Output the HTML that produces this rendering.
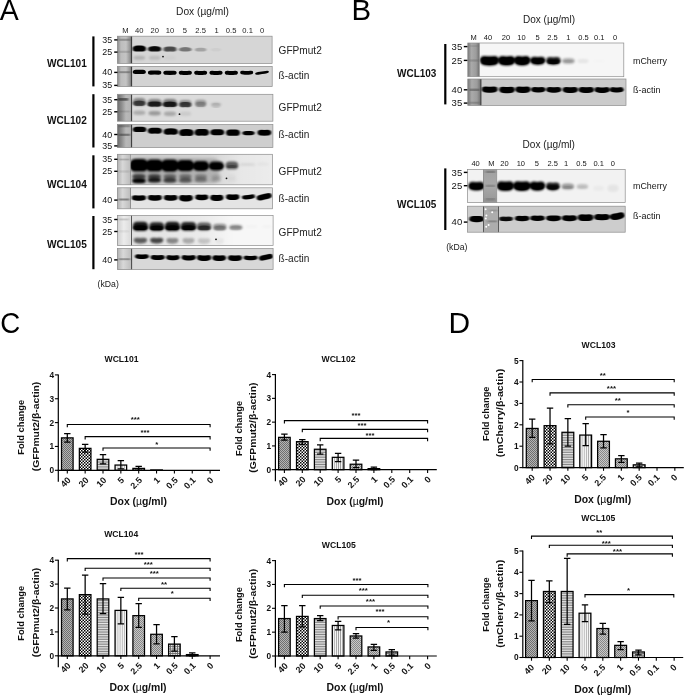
<!DOCTYPE html>
<html><head><meta charset="utf-8"><title>Figure</title>
<style>html,body{margin:0;padding:0;background:#fff;}svg{display:block;opacity:0.999;}</style></head>
<body>
<svg width="685" height="695" viewBox="0 0 685 695" font-family='"Liberation Sans", sans-serif'>
<defs>
<filter id="b1" x="-30%" y="-80%" width="160%" height="260%"><feGaussianBlur stdDeviation="0.9 0.7"/></filter>
<filter id="b3s" x="-30%" y="-80%" width="160%" height="260%"><feGaussianBlur stdDeviation="0.75 0.55"/></filter>
<filter id="b2" x="-30%" y="-80%" width="160%" height="260%"><feGaussianBlur stdDeviation="1.3 1.0"/></filter>
<filter id="b3" x="-30%" y="-30%" width="160%" height="160%"><feGaussianBlur stdDeviation="1.6"/></filter>
<linearGradient id="mk" x1="0" x2="1" y1="0" y2="0">
<stop offset="0" stop-color="#8a8a8a"/><stop offset="0.25" stop-color="#bdbdbd"/><stop offset="0.6" stop-color="#c4c4c4"/><stop offset="0.85" stop-color="#9a9a9a"/><stop offset="1" stop-color="#6a6a6a"/>
</linearGradient>
<linearGradient id="mk2" x1="0" x2="1" y1="0" y2="0">
<stop offset="0" stop-color="#b0b0b0"/><stop offset="0.4" stop-color="#d8d8d8"/><stop offset="1" stop-color="#bcbcbc"/>
</linearGradient>
<linearGradient id="mk3" x1="0" x2="1" y1="0" y2="0">
<stop offset="0" stop-color="#777"/><stop offset="0.3" stop-color="#aaa"/><stop offset="0.7" stop-color="#9c9c9c"/><stop offset="1" stop-color="#6c6c6c"/>
</linearGradient>
<linearGradient id="mk5" x1="0" x2="1" y1="0" y2="0">
<stop offset="0" stop-color="#6c6c6c"/><stop offset="0.3" stop-color="#8e8e8e"/><stop offset="0.6" stop-color="#b8b8b8"/><stop offset="0.9" stop-color="#b4b4b4"/><stop offset="1" stop-color="#808080"/>
</linearGradient>
<linearGradient id="mk6" x1="0" x2="0" y1="0" y2="1">
<stop offset="0" stop-color="#a0a0a0"/><stop offset="0.5" stop-color="#a8a8a8"/><stop offset="1" stop-color="#969696"/>
</linearGradient>
<linearGradient id="mk4" x1="0" x2="1" y1="0" y2="0">
<stop offset="0" stop-color="#cfcfcf"/><stop offset="0.5" stop-color="#ececec"/><stop offset="1" stop-color="#dcdcdc"/>
</linearGradient>
<linearGradient id="sm5" x1="0" x2="1" y1="0" y2="0">
<stop offset="0" stop-color="#000" stop-opacity="0.14"/><stop offset="0.6" stop-color="#000" stop-opacity="0.10"/><stop offset="0.8" stop-color="#000" stop-opacity="0.02"/><stop offset="1" stop-color="#000" stop-opacity="0"/>
</linearGradient>
<linearGradient id="sm7" x1="0" x2="1" y1="0" y2="0">
<stop offset="0" stop-color="#000" stop-opacity="0.10"/><stop offset="0.55" stop-color="#000" stop-opacity="0.05"/><stop offset="0.75" stop-color="#000" stop-opacity="0"/><stop offset="1" stop-color="#000" stop-opacity="0"/>
</linearGradient>
<pattern id="p0" width="2" height="2" patternUnits="userSpaceOnUse"><rect width="2" height="2" fill="#b4b4b4"/><rect width="1" height="1" fill="#6e6e6e"/><rect x="1" y="1" width="1" height="1" fill="#6e6e6e"/></pattern>
<pattern id="p1" width="3" height="3" patternUnits="userSpaceOnUse"><rect width="3" height="3" fill="#fff"/><rect width="1.5" height="1.5" fill="#000"/><rect x="1.5" y="1.5" width="1.5" height="1.5" fill="#000"/></pattern>
<pattern id="p2" width="2" height="1.7" patternUnits="userSpaceOnUse"><rect width="2" height="1.7" fill="#e8e8e8"/><rect width="2" height="0.75" fill="#777"/></pattern>
<pattern id="p3" width="2.1" height="2" patternUnits="userSpaceOnUse"><rect width="2.1" height="2" fill="#f4f4f4"/><rect width="0.7" height="2" fill="#999"/></pattern>
<pattern id="p4" width="2" height="2" patternUnits="userSpaceOnUse"><rect width="2" height="2" fill="#c8c8c8"/><rect width="1" height="1" fill="#888"/><rect x="1" y="1" width="1" height="1" fill="#888"/></pattern>
<pattern id="p5" width="2" height="2" patternUnits="userSpaceOnUse"><rect width="2" height="2" fill="#c4c4c4"/><rect width="1" height="1" fill="#808080"/><rect x="1" y="1" width="1" height="1" fill="#808080"/></pattern>
<pattern id="p6" width="2.3" height="2.3" patternUnits="userSpaceOnUse"><rect width="2.3" height="2.3" fill="#e4e4e4"/><rect width="2.3" height="0.75" fill="#6a6a6a"/><rect width="0.75" height="2.3" fill="#6a6a6a"/></pattern>
<pattern id="p7" width="2" height="2" patternUnits="userSpaceOnUse"><rect width="2" height="2" fill="#999"/></pattern>
</defs>
<rect width="685" height="695" fill="#fff"/>
<text x="-0.20" y="20.10" font-size="28.6" font-weight="normal" text-anchor="start" fill="#000" textLength="19.00" lengthAdjust="spacingAndGlyphs" >A</text>
<text x="351.40" y="20.10" font-size="28.6" font-weight="normal" text-anchor="start" fill="#000" textLength="19.60" lengthAdjust="spacingAndGlyphs" >B</text>
<text x="0.20" y="333.30" font-size="28.6" font-weight="normal" text-anchor="start" fill="#000" textLength="20.00" lengthAdjust="spacingAndGlyphs" >C</text>
<text x="448.40" y="333.20" font-size="28.6" font-weight="normal" text-anchor="start" fill="#000" textLength="21.60" lengthAdjust="spacingAndGlyphs" >D</text>
<rect x="117.4" y="36.2" width="154.70" height="27.20" fill="#d6d6d6"/>
<rect x="117.4" y="36.2" width="14.30" height="27.20" fill="url(#mk)"/>
<rect x="131.2" y="36.2" width="0.9" height="27.20" fill="#2a2a2a"/>
<rect x="118.9" y="38.80" width="11.30" height="2" fill="#333" fill-opacity="0.35" filter="url(#b1)"/>
<rect x="118.9" y="50.80" width="11.30" height="2" fill="#333" fill-opacity="0.2" filter="url(#b1)"/>
<clipPath id="c1"><rect x="131.7" y="36.2" width="140.40" height="27.20"/></clipPath>
<g filter="url(#b1)" clip-path="url(#c1)">
<path d="M132.70 48.90Q132.70 45.70 137.30 45.55Q139.30 45.25 141.30 45.55Q145.90 45.70 145.90 48.90Q145.90 51.70 141.30 51.55Q139.30 51.25 137.30 51.55Q132.70 51.70 132.70 48.90Z" fill="#000" fill-opacity="1"/>
<path d="M148.14 49.30Q148.14 46.36 152.74 46.18Q154.64 45.82 156.54 46.18Q161.14 46.36 161.14 49.30Q161.14 51.76 156.54 51.58Q154.64 51.22 152.74 51.58Q148.14 51.76 148.14 49.30Z" fill="#000" fill-opacity="0.92"/>
<path d="M163.48 49.40Q163.48 46.74 168.08 46.62Q169.98 46.38 171.88 46.62Q176.48 46.74 176.48 49.40Q176.48 51.74 171.88 51.62Q169.98 51.38 168.08 51.62Q163.48 51.74 163.48 49.40Z" fill="#000" fill-opacity="0.62"/>
<path d="M179.02 49.60Q179.02 47.28 183.56 47.19Q185.32 47.01 187.08 47.19Q191.62 47.28 191.62 49.60Q191.62 51.68 187.08 51.59Q185.32 51.41 183.56 51.59Q179.02 51.68 179.02 49.60Z" fill="#000" fill-opacity="0.45"/>
<path d="M194.96 49.80Q194.96 47.82 199.06 47.76Q200.66 47.64 202.26 47.76Q206.36 47.82 206.36 49.80Q206.36 51.62 202.26 51.56Q200.66 51.44 199.06 51.56Q194.96 51.62 194.96 49.80Z" fill="#000" fill-opacity="0.24"/>
<path d="M211.00 49.70Q211.00 48.00 214.60 48.00Q216.00 48.00 217.40 48.00Q221.00 48.00 221.00 49.70Q221.00 51.40 217.40 51.40Q216.00 51.40 214.60 51.40Q211.00 51.40 211.00 49.70Z" fill="#000" fill-opacity="0.04"/>
</g>
<g filter="url(#b1)" clip-path="url(#c1)">
<path d="M134.20 48.20Q134.20 46.70 137.87 46.70Q139.30 46.70 140.73 46.70Q144.40 46.70 144.40 48.20Q144.40 49.70 140.73 49.70Q139.30 49.70 137.87 49.70Q134.20 49.70 134.20 48.20Z" fill="#000" fill-opacity="1"/>
<path d="M149.54 48.50Q149.54 47.00 153.21 47.00Q154.64 47.00 156.07 47.00Q159.74 47.00 159.74 48.50Q159.74 50.00 156.07 50.00Q154.64 50.00 153.21 50.00Q149.54 50.00 149.54 48.50Z" fill="#000" fill-opacity="0.6"/>
<path d="M164.88 48.80Q164.88 47.30 168.55 47.30Q169.98 47.30 171.41 47.30Q175.08 47.30 175.08 48.80Q175.08 50.30 171.41 50.30Q169.98 50.30 168.55 50.30Q164.88 50.30 164.88 48.80Z" fill="#000" fill-opacity="0.12"/>
</g>
<g filter="url(#b2)" clip-path="url(#c1)">
<path d="M133.45 57.80Q133.45 55.80 137.66 55.80Q139.30 55.80 140.94 55.80Q145.15 55.80 145.15 57.80Q145.15 59.80 140.94 59.80Q139.30 59.80 137.66 59.80Q133.45 59.80 133.45 57.80Z" fill="#000" fill-opacity="0.17"/>
<path d="M148.79 57.80Q148.79 55.80 153.00 55.80Q154.64 55.80 156.28 55.80Q160.49 55.80 160.49 57.80Q160.49 59.80 156.28 59.80Q154.64 59.80 153.00 59.80Q148.79 59.80 148.79 57.80Z" fill="#000" fill-opacity="0.12"/>
<path d="M164.13 57.80Q164.13 55.80 168.34 55.80Q169.98 55.80 171.62 55.80Q175.83 55.80 175.83 57.80Q175.83 59.80 171.62 59.80Q169.98 59.80 168.34 59.80Q164.13 59.80 164.13 57.80Z" fill="#000" fill-opacity="0.03"/>
</g>
<rect x="117.4" y="36.2" width="154.70" height="27.20" fill="none" stroke="#8c8c8c" stroke-width="0.7"/>
<rect x="117.4" y="66.4" width="154.80" height="20.20" fill="#d3d3d3"/>
<rect x="117.4" y="66.4" width="14.30" height="20.20" fill="url(#mk)"/>
<rect x="131.2" y="66.4" width="0.9" height="20.20" fill="#2a2a2a"/>
<rect x="118.9" y="71.20" width="11.30" height="2" fill="#333" fill-opacity="0.4" filter="url(#b1)"/>
<clipPath id="c2"><rect x="131.7" y="66.4" width="140.50" height="20.20"/></clipPath>
<g filter="url(#b3s)" clip-path="url(#c2)">
<path d="M132.70 72.20Q132.70 69.94 135.60 69.82Q139.30 69.58 143.00 69.82Q145.90 69.94 145.90 72.20Q145.90 74.14 143.00 74.02Q139.30 73.78 135.60 74.02Q132.70 74.14 132.70 72.20Z" fill="#000" fill-opacity="1"/>
<path d="M147.94 72.70Q147.94 70.52 150.89 70.46Q154.64 70.34 158.39 70.46Q161.34 70.52 161.34 72.70Q161.34 74.72 158.39 74.66Q154.64 74.54 150.89 74.66Q147.94 74.72 147.94 72.70Z" fill="#000" fill-opacity="1"/>
<path d="M163.28 72.40Q163.28 70.50 166.23 70.65Q169.98 70.95 173.73 70.65Q176.68 70.50 176.68 72.40Q176.68 74.70 173.73 74.85Q169.98 75.15 166.23 74.85Q163.28 74.70 163.28 72.40Z" fill="#000" fill-opacity="1"/>
<path d="M178.72 72.40Q178.72 70.64 181.62 70.82Q185.32 71.18 189.02 70.82Q191.92 70.64 191.92 72.40Q191.92 74.64 189.02 74.82Q185.32 75.18 181.62 74.82Q178.72 74.64 178.72 72.40Z" fill="#000" fill-opacity="1"/>
<path d="M194.16 72.40Q194.16 70.64 197.02 70.82Q200.66 71.18 204.30 70.82Q207.16 70.64 207.16 72.40Q207.16 74.64 204.30 74.82Q200.66 75.18 197.02 74.82Q194.16 74.64 194.16 72.40Z" fill="#000" fill-opacity="1"/>
<path d="M209.40 72.40Q209.40 70.64 212.30 70.82Q216.00 71.18 219.70 70.82Q222.60 70.64 222.60 72.40Q222.60 74.64 219.70 74.82Q216.00 75.18 212.30 74.82Q209.40 74.64 209.40 72.40Z" fill="#000" fill-opacity="1"/>
<path d="M224.74 72.40Q224.74 70.64 227.64 70.82Q231.34 71.18 235.04 70.82Q237.94 70.64 237.94 72.40Q237.94 74.64 235.04 74.82Q231.34 75.18 227.64 74.82Q224.74 74.64 224.74 72.40Z" fill="#000" fill-opacity="1"/>
<path d="M240.18 72.30Q240.18 70.64 243.04 70.82Q246.68 71.18 250.32 70.82Q253.18 70.64 253.18 72.30Q253.18 74.44 250.32 74.62Q246.68 74.98 243.04 74.62Q240.18 74.44 240.18 72.30Z" fill="#000" fill-opacity="1"/>
<path d="M255.02 72.80Q255.02 71.50 258.10 71.50Q262.02 71.50 265.94 71.50Q269.02 71.50 269.02 72.80Q269.02 74.10 265.94 74.10Q262.02 74.10 258.10 74.10Q255.02 74.10 255.02 72.80Z" fill="#000" fill-opacity="1" transform="rotate(-8 262.02 72.80)"/>
</g>
<g filter="url(#b3s)" clip-path="url(#c2)">
<path d="M133.90 72.30Q133.90 71.04 136.28 70.92Q139.30 70.68 142.32 70.92Q144.70 71.04 144.70 72.30Q144.70 73.24 142.32 73.12Q139.30 72.88 136.28 73.12Q133.90 73.24 133.90 72.30Z" fill="#000" fill-opacity="1"/>
<path d="M149.24 72.80Q149.24 71.62 151.62 71.56Q154.64 71.44 157.66 71.56Q160.04 71.62 160.04 72.80Q160.04 73.82 157.66 73.76Q154.64 73.64 151.62 73.76Q149.24 73.82 149.24 72.80Z" fill="#000" fill-opacity="1"/>
<path d="M164.58 72.60Q164.58 71.66 166.96 71.78Q169.98 72.02 173.00 71.78Q175.38 71.66 175.38 72.60Q175.38 73.86 173.00 73.98Q169.98 74.22 166.96 73.98Q164.58 73.86 164.58 72.60Z" fill="#000" fill-opacity="1"/>
<path d="M179.92 72.70Q179.92 71.76 182.30 71.88Q185.32 72.12 188.34 71.88Q190.72 71.76 190.72 72.70Q190.72 73.96 188.34 74.08Q185.32 74.32 182.30 74.08Q179.92 73.96 179.92 72.70Z" fill="#000" fill-opacity="1"/>
<path d="M195.26 72.70Q195.26 71.76 197.64 71.88Q200.66 72.12 203.68 71.88Q206.06 71.76 206.06 72.70Q206.06 73.96 203.68 74.08Q200.66 74.32 197.64 74.08Q195.26 73.96 195.26 72.70Z" fill="#000" fill-opacity="1"/>
<path d="M210.60 72.70Q210.60 71.76 212.98 71.88Q216.00 72.12 219.02 71.88Q221.40 71.76 221.40 72.70Q221.40 73.96 219.02 74.08Q216.00 74.32 212.98 74.08Q210.60 73.96 210.60 72.70Z" fill="#000" fill-opacity="1"/>
<path d="M225.94 72.70Q225.94 71.76 228.32 71.88Q231.34 72.12 234.36 71.88Q236.74 71.76 236.74 72.70Q236.74 73.96 234.36 74.08Q231.34 74.32 228.32 74.08Q225.94 73.96 225.94 72.70Z" fill="#000" fill-opacity="1"/>
<path d="M241.28 72.60Q241.28 71.66 243.66 71.78Q246.68 72.02 249.70 71.78Q252.08 71.66 252.08 72.60Q252.08 73.86 249.70 73.98Q246.68 74.22 243.66 73.98Q241.28 73.86 241.28 72.60Z" fill="#000" fill-opacity="1"/>
<path d="M256.62 72.90Q256.62 72.20 259.00 72.20Q262.02 72.20 265.04 72.20Q267.42 72.20 267.42 72.90Q267.42 73.60 265.04 73.60Q262.02 73.60 259.00 73.60Q256.62 73.60 256.62 72.90Z" fill="#000" fill-opacity="0.6" transform="rotate(-8 262.02 72.90)"/>
</g>
<rect x="117.4" y="66.4" width="154.80" height="20.20" fill="none" stroke="#8c8c8c" stroke-width="0.7"/>
<rect x="117.4" y="94.3" width="155.50" height="26.90" fill="#dcdcdc"/>
<rect x="117.4" y="94.3" width="14.30" height="26.90" fill="url(#mk5)"/>
<rect x="131.2" y="94.3" width="0.9" height="26.90" fill="#2a2a2a"/>
<rect x="117.9" y="98.10" width="10.30" height="2.6" fill="#333" fill-opacity="0.7" filter="url(#b1)"/>
<rect x="118.9" y="110.50" width="11.30" height="2" fill="#333" fill-opacity="0.15" filter="url(#b1)"/>
<clipPath id="c3"><rect x="131.7" y="94.3" width="140.90" height="26.90"/></clipPath>
<g filter="url(#b2)" clip-path="url(#c3)">
<path d="M132.80 102.00Q132.80 98.10 137.40 98.10Q139.30 98.10 141.20 98.10Q145.80 98.10 145.80 102.00Q145.80 105.90 141.20 105.90Q139.30 105.90 137.40 105.90Q132.80 105.90 132.80 102.00Z" fill="#000" fill-opacity="0.4"/>
<path d="M147.64 102.80Q147.64 99.10 152.24 99.10Q154.64 99.10 157.04 99.10Q161.64 99.10 161.64 102.80Q161.64 106.50 157.04 106.50Q154.64 106.50 152.24 106.50Q147.64 106.50 147.64 102.80Z" fill="#000" fill-opacity="0.42"/>
<path d="M162.98 103.00Q162.98 99.10 167.58 99.10Q169.98 99.10 172.38 99.10Q176.98 99.10 176.98 103.00Q176.98 106.90 172.38 106.90Q169.98 106.90 167.58 106.90Q162.98 106.90 162.98 103.00Z" fill="#000" fill-opacity="0.45"/>
<path d="M179.12 103.30Q179.12 100.00 183.58 100.00Q185.32 100.00 187.06 100.00Q191.52 100.00 191.52 103.30Q191.52 106.60 187.06 106.60Q185.32 106.60 183.58 106.60Q179.12 106.60 179.12 103.30Z" fill="#000" fill-opacity="0.36"/>
<path d="M194.86 103.20Q194.86 99.80 199.04 99.80Q200.66 99.80 202.28 99.80Q206.46 99.80 206.46 103.20Q206.46 106.60 202.28 106.60Q200.66 106.60 199.04 106.60Q194.86 106.60 194.86 103.20Z" fill="#000" fill-opacity="0.3"/>
<path d="M210.50 104.10Q210.50 102.50 214.46 102.50Q216.00 102.50 217.54 102.50Q221.50 102.50 221.50 104.10Q221.50 105.70 217.54 105.70Q216.00 105.70 214.46 105.70Q210.50 105.70 210.50 104.10Z" fill="#000" fill-opacity="0.13"/>
</g>
<g filter="url(#b1)" clip-path="url(#c3)">
<path d="M133.20 103.50Q133.20 100.78 137.59 100.69Q139.30 100.51 141.01 100.69Q145.40 100.78 145.40 103.50Q145.40 105.98 141.01 105.89Q139.30 105.71 137.59 105.89Q133.20 105.98 133.20 103.50Z" fill="#000" fill-opacity="0.6"/>
<path d="M147.64 104.50Q147.64 101.70 152.24 101.55Q154.64 101.25 157.04 101.55Q161.64 101.70 161.64 104.50Q161.64 106.90 157.04 106.75Q154.64 106.45 152.24 106.75Q147.64 106.90 147.64 104.50Z" fill="#000" fill-opacity="0.8"/>
<path d="M162.98 104.70Q162.98 101.90 167.58 101.75Q169.98 101.45 172.38 101.75Q176.98 101.90 176.98 104.70Q176.98 107.10 172.38 106.95Q169.98 106.65 167.58 106.95Q162.98 107.10 162.98 104.70Z" fill="#000" fill-opacity="0.82"/>
<path d="M179.32 104.90Q179.32 102.14 183.64 102.02Q185.32 101.78 187.00 102.02Q191.32 102.14 191.32 104.90Q191.32 107.34 187.00 107.22Q185.32 106.98 183.64 107.22Q179.32 107.34 179.32 104.90Z" fill="#000" fill-opacity="0.64"/>
<path d="M195.66 104.40Q195.66 101.80 199.26 101.80Q200.66 101.80 202.06 101.80Q205.66 101.80 205.66 104.40Q205.66 107.00 202.06 107.00Q200.66 107.00 199.26 107.00Q195.66 107.00 195.66 104.40Z" fill="#000" fill-opacity="0.2"/>
<path d="M211.50 105.30Q211.50 102.70 214.74 102.70Q216.00 102.70 217.26 102.70Q220.50 102.70 220.50 105.30Q220.50 107.90 217.26 107.90Q216.00 107.90 214.74 107.90Q211.50 107.90 211.50 105.30Z" fill="#000" fill-opacity="0.1"/>
</g>
<g filter="url(#b2)" clip-path="url(#c3)">
<path d="M133.20 112.80Q133.20 110.60 137.59 110.60Q139.30 110.60 141.01 110.60Q145.40 110.60 145.40 112.80Q145.40 115.00 141.01 115.00Q139.30 115.00 137.59 115.00Q133.20 115.00 133.20 112.80Z" fill="#000" fill-opacity="0.22"/>
<path d="M148.54 113.20Q148.54 111.00 152.93 111.00Q154.64 111.00 156.35 111.00Q160.74 111.00 160.74 113.20Q160.74 115.40 156.35 115.40Q154.64 115.40 152.93 115.40Q148.54 115.40 148.54 113.20Z" fill="#000" fill-opacity="0.3"/>
<path d="M163.88 113.70Q163.88 111.50 168.27 111.50Q169.98 111.50 171.69 111.50Q176.08 111.50 176.08 113.70Q176.08 115.90 171.69 115.90Q169.98 115.90 168.27 115.90Q163.88 115.90 163.88 113.70Z" fill="#000" fill-opacity="0.24"/>
<path d="M179.22 113.70Q179.22 111.50 183.61 111.50Q185.32 111.50 187.03 111.50Q191.42 111.50 191.42 113.70Q191.42 115.90 187.03 115.90Q185.32 115.90 183.61 115.90Q179.22 115.90 179.22 113.70Z" fill="#000" fill-opacity="0.08"/>
</g>
<rect x="117.4" y="94.3" width="155.50" height="26.90" fill="none" stroke="#8c8c8c" stroke-width="0.7"/>
<rect x="117.4" y="124.5" width="155.50" height="23.10" fill="#cecece"/>
<rect x="117.4" y="124.5" width="14.30" height="23.10" fill="url(#mk5)"/>
<rect x="131.2" y="124.5" width="0.9" height="23.10" fill="#2a2a2a"/>
<rect x="118.9" y="133.70" width="11.30" height="2.2" fill="#333" fill-opacity="0.5" filter="url(#b1)"/>
<rect x="118.9" y="124.80" width="11.30" height="2.4" fill="#333" fill-opacity="0.35" filter="url(#b1)"/>
<clipPath id="c4"><rect x="131.7" y="124.5" width="140.90" height="23.10"/></clipPath>
<g filter="url(#b1)" clip-path="url(#c4)">
<path d="M133.10 129.70Q133.10 126.94 136.61 126.82Q139.60 126.58 142.59 126.82Q146.10 126.94 146.10 129.70Q146.10 132.14 142.59 132.02Q139.60 131.78 136.61 132.02Q133.10 132.14 133.10 129.70Z" fill="#000" fill-opacity="1"/>
<path d="M148.00 131.10Q148.00 128.00 151.73 127.85Q154.90 127.55 158.07 127.85Q161.80 128.00 161.80 131.10Q161.80 133.80 158.07 133.65Q154.90 133.35 151.73 133.65Q148.00 133.80 148.00 131.10Z" fill="#000" fill-opacity="1"/>
<path d="M163.80 131.90Q163.80 128.60 167.58 128.45Q170.80 128.15 174.02 128.45Q177.80 128.60 177.80 131.90Q177.80 134.80 174.02 134.65Q170.80 134.35 167.58 134.65Q163.80 134.80 163.80 131.90Z" fill="#000" fill-opacity="1"/>
<path d="M179.30 132.90Q179.30 129.30 183.13 129.15Q186.40 128.85 189.67 129.15Q193.50 129.30 193.50 132.90Q193.50 136.10 189.67 135.95Q186.40 135.65 183.13 135.95Q179.30 136.10 179.30 132.90Z" fill="#000" fill-opacity="1"/>
<path d="M194.80 132.70Q194.80 129.24 198.58 129.12Q201.80 128.88 205.02 129.12Q208.80 129.24 208.80 132.70Q208.80 135.84 205.02 135.72Q201.80 135.48 198.58 135.72Q194.80 135.84 194.80 132.70Z" fill="#000" fill-opacity="1"/>
<path d="M210.60 132.50Q210.60 129.38 214.22 129.29Q217.30 129.11 220.38 129.29Q224.00 129.38 224.00 132.50Q224.00 135.38 220.38 135.29Q217.30 135.11 214.22 135.29Q210.60 135.38 210.60 132.50Z" fill="#000" fill-opacity="1"/>
<path d="M226.30 132.90Q226.30 129.68 229.92 129.59Q233.00 129.41 236.08 129.59Q239.70 129.68 239.70 132.90Q239.70 135.88 236.08 135.79Q233.00 135.61 229.92 135.79Q226.30 135.88 226.30 132.90Z" fill="#000" fill-opacity="1"/>
<path d="M242.70 133.10Q242.70 130.90 245.83 130.90Q248.50 130.90 251.17 130.90Q254.30 130.90 254.30 133.10Q254.30 135.30 251.17 135.30Q248.50 135.30 245.83 135.30Q242.70 135.30 242.70 133.10Z" fill="#000" fill-opacity="1"/>
<path d="M257.70 132.50Q257.70 129.72 261.32 129.81Q264.40 129.99 267.48 129.81Q271.10 129.72 271.10 132.50Q271.10 135.52 267.48 135.61Q264.40 135.79 261.32 135.61Q257.70 135.52 257.70 132.50Z" fill="#000" fill-opacity="1"/>
</g>
<g filter="url(#b1)" clip-path="url(#c4)">
<path d="M134.00 129.30Q134.00 127.80 137.02 127.80Q139.60 127.80 142.18 127.80Q145.20 127.80 145.20 129.30Q145.20 130.80 142.18 130.80Q139.60 130.80 137.02 130.80Q134.00 130.80 134.00 129.30Z" fill="#000" fill-opacity="1"/>
<path d="M149.30 130.60Q149.30 128.80 152.32 128.80Q154.90 128.80 157.48 128.80Q160.50 128.80 160.50 130.60Q160.50 132.40 157.48 132.40Q154.90 132.40 152.32 132.40Q149.30 132.40 149.30 130.60Z" fill="#000" fill-opacity="1"/>
<path d="M165.20 131.40Q165.20 129.40 168.22 129.40Q170.80 129.40 173.38 129.40Q176.40 129.40 176.40 131.40Q176.40 133.40 173.38 133.40Q170.80 133.40 168.22 133.40Q165.20 133.40 165.20 131.40Z" fill="#000" fill-opacity="1"/>
<path d="M180.80 132.40Q180.80 130.20 183.82 130.20Q186.40 130.20 188.98 130.20Q192.00 130.20 192.00 132.40Q192.00 134.60 188.98 134.60Q186.40 134.60 183.82 134.60Q180.80 134.60 180.80 132.40Z" fill="#000" fill-opacity="1"/>
<path d="M196.20 132.30Q196.20 130.20 199.22 130.20Q201.80 130.20 204.38 130.20Q207.40 130.20 207.40 132.30Q207.40 134.40 204.38 134.40Q201.80 134.40 199.22 134.40Q196.20 134.40 196.20 132.30Z" fill="#000" fill-opacity="1"/>
<path d="M211.70 132.20Q211.70 130.40 214.72 130.40Q217.30 130.40 219.88 130.40Q222.90 130.40 222.90 132.20Q222.90 134.00 219.88 134.00Q217.30 134.00 214.72 134.00Q211.70 134.00 211.70 132.20Z" fill="#000" fill-opacity="1"/>
<path d="M227.40 132.60Q227.40 130.70 230.42 130.70Q233.00 130.70 235.58 130.70Q238.60 130.70 238.60 132.60Q238.60 134.50 235.58 134.50Q233.00 134.50 230.42 134.50Q227.40 134.50 227.40 132.60Z" fill="#000" fill-opacity="1"/>
<path d="M242.90 133.10Q242.90 132.00 245.92 132.00Q248.50 132.00 251.08 132.00Q254.10 132.00 254.10 133.10Q254.10 134.20 251.08 134.20Q248.50 134.20 245.92 134.20Q242.90 134.20 242.90 133.10Z" fill="#000" fill-opacity="0.7"/>
<path d="M258.80 132.80Q258.80 131.10 261.82 131.10Q264.40 131.10 266.98 131.10Q270.00 131.10 270.00 132.80Q270.00 134.50 266.98 134.50Q264.40 134.50 261.82 134.50Q258.80 134.50 258.80 132.80Z" fill="#000" fill-opacity="1"/>
</g>
<rect x="117.4" y="124.5" width="155.50" height="23.10" fill="none" stroke="#8c8c8c" stroke-width="0.7"/>
<rect x="117.4" y="154.3" width="155.20" height="30.50" fill="#ececec"/>
<rect x="117.4" y="154.3" width="155.20" height="30.50" fill="url(#sm5)"/>
<rect x="117.4" y="154.3" width="13.10" height="30.50" fill="url(#mk2)"/>
<rect x="130.0" y="154.3" width="0.9" height="30.50" fill="#9a9a9a"/>
<rect x="118.9" y="158.60" width="10.30" height="1.8" fill="#333" fill-opacity="0.25" filter="url(#b1)"/>
<rect x="118.9" y="170.50" width="10.30" height="2" fill="#333" fill-opacity="0.12" filter="url(#b1)"/>
<clipPath id="c5"><rect x="130.7" y="154.3" width="141.90" height="30.50"/></clipPath>
<rect x="133" y="158" width="86" height="25" rx="5" fill="#000" fill-opacity="0.16" filter="url(#b3)" clip-path="url(#c5)"/>
<g filter="url(#b2)" clip-path="url(#c5)">
<path d="M130.20 165.20Q130.20 158.90 134.80 158.90Q138.90 158.90 143.00 158.90Q147.60 158.90 147.60 165.20Q147.60 171.50 143.00 171.50Q138.90 171.50 134.80 171.50Q130.20 171.50 130.20 165.20Z" fill="#000" fill-opacity="1"/>
<path d="M146.20 165.50Q146.20 159.40 150.80 159.40Q154.40 159.40 158.00 159.40Q162.60 159.40 162.60 165.50Q162.60 171.60 158.00 171.60Q154.40 171.60 150.80 171.60Q146.20 171.60 146.20 165.50Z" fill="#000" fill-opacity="1"/>
<path d="M161.50 165.60Q161.50 159.50 166.10 159.50Q169.90 159.50 173.70 159.50Q178.30 159.50 178.30 165.60Q178.30 171.70 173.70 171.70Q169.90 171.70 166.10 171.70Q161.50 171.70 161.50 165.60Z" fill="#000" fill-opacity="1"/>
<path d="M177.10 165.60Q177.10 159.90 181.70 159.90Q185.40 159.90 189.10 159.90Q193.70 159.90 193.70 165.60Q193.70 171.30 189.10 171.30Q185.40 171.30 181.70 171.30Q177.10 171.30 177.10 165.60Z" fill="#000" fill-opacity="1"/>
<path d="M193.20 166.00Q193.20 161.10 197.80 161.10Q200.90 161.10 204.00 161.10Q208.60 161.10 208.60 166.00Q208.60 170.90 204.00 170.90Q200.90 170.90 197.80 170.90Q193.20 170.90 193.20 166.00Z" fill="#000" fill-opacity="1"/>
<path d="M209.10 166.00Q209.10 161.60 213.70 161.60Q216.40 161.60 219.10 161.60Q223.70 161.60 223.70 166.00Q223.70 170.40 219.10 170.40Q216.40 170.40 213.70 170.40Q209.10 170.40 209.10 166.00Z" fill="#000" fill-opacity="0.97"/>
<path d="M225.50 165.40Q225.50 161.50 230.10 161.50Q231.90 161.50 233.70 161.50Q238.30 161.50 238.30 165.40Q238.30 169.30 233.70 169.30Q231.90 169.30 230.10 169.30Q225.50 169.30 225.50 165.40Z" fill="#000" fill-opacity="0.6"/>
<path d="M239.40 164.60Q239.40 163.10 244.00 163.10Q247.40 163.10 250.80 163.10Q255.40 163.10 255.40 164.60Q255.40 166.10 250.80 166.10Q247.40 166.10 244.00 166.10Q239.40 166.10 239.40 164.60Z" fill="#000" fill-opacity="0.07"/>
<path d="M256.90 163.90Q256.90 162.40 261.22 162.40Q262.90 162.40 264.58 162.40Q268.90 162.40 268.90 163.90Q268.90 165.40 264.58 165.40Q262.90 165.40 261.22 165.40Q256.90 165.40 256.90 163.90Z" fill="#000" fill-opacity="0.03"/>
</g>
<g filter="url(#b1)" clip-path="url(#c5)">
<path d="M131.10 165.40Q131.10 160.80 135.70 160.80Q138.90 160.80 142.10 160.80Q146.70 160.80 146.70 165.40Q146.70 170.00 142.10 170.00Q138.90 170.00 135.70 170.00Q131.10 170.00 131.10 165.40Z" fill="#000" fill-opacity="1"/>
<path d="M147.10 165.70Q147.10 161.30 151.70 161.30Q154.40 161.30 157.10 161.30Q161.70 161.30 161.70 165.70Q161.70 170.10 157.10 170.10Q154.40 170.10 151.70 170.10Q147.10 170.10 147.10 165.70Z" fill="#000" fill-opacity="1"/>
<path d="M162.40 165.80Q162.40 161.40 167.00 161.40Q169.90 161.40 172.80 161.40Q177.40 161.40 177.40 165.80Q177.40 170.20 172.80 170.20Q169.90 170.20 167.00 170.20Q162.40 170.20 162.40 165.80Z" fill="#000" fill-opacity="1"/>
<path d="M178.00 165.80Q178.00 161.80 182.60 161.80Q185.40 161.80 188.20 161.80Q192.80 161.80 192.80 165.80Q192.80 169.80 188.20 169.80Q185.40 169.80 182.60 169.80Q178.00 169.80 178.00 165.80Z" fill="#000" fill-opacity="1"/>
<path d="M194.20 166.20Q194.20 163.00 198.80 163.00Q200.90 163.00 203.00 163.00Q207.60 163.00 207.60 166.20Q207.60 169.40 203.00 169.40Q200.90 169.40 198.80 169.40Q194.20 169.40 194.20 166.20Z" fill="#000" fill-opacity="1"/>
<path d="M210.10 166.20Q210.10 163.40 214.64 163.40Q216.40 163.40 218.16 163.40Q222.70 163.40 222.70 166.20Q222.70 169.00 218.16 169.00Q216.40 169.00 214.64 169.00Q210.10 169.00 210.10 166.20Z" fill="#000" fill-opacity="0.9"/>
<path d="M226.90 166.50Q226.90 165.00 230.50 165.00Q231.90 165.00 233.30 165.00Q236.90 165.00 236.90 166.50Q236.90 168.00 233.30 168.00Q231.90 168.00 230.50 168.00Q226.90 168.00 226.90 166.50Z" fill="#000" fill-opacity="0.3"/>
</g>
<g filter="url(#b2)" clip-path="url(#c5)">
<path d="M132.20 176.60Q132.20 174.10 136.80 174.10Q138.90 174.10 141.00 174.10Q145.60 174.10 145.60 176.60Q145.60 179.10 141.00 179.10Q138.90 179.10 136.80 179.10Q132.20 179.10 132.20 176.60Z" fill="#000" fill-opacity="0.62"/>
<path d="M148.00 176.60Q148.00 174.10 152.60 174.10Q154.40 174.10 156.20 174.10Q160.80 174.10 160.80 176.60Q160.80 179.10 156.20 179.10Q154.40 179.10 152.60 179.10Q148.00 179.10 148.00 176.60Z" fill="#000" fill-opacity="0.6"/>
<path d="M163.60 176.60Q163.60 174.10 168.14 174.10Q169.90 174.10 171.66 174.10Q176.20 174.10 176.20 176.60Q176.20 179.10 171.66 179.10Q169.90 179.10 168.14 179.10Q163.60 179.10 163.60 176.60Z" fill="#000" fill-opacity="0.42"/>
<path d="M179.30 176.60Q179.30 174.10 183.69 174.10Q185.40 174.10 187.11 174.10Q191.50 174.10 191.50 176.60Q191.50 179.10 187.11 179.10Q185.40 179.10 183.69 179.10Q179.30 179.10 179.30 176.60Z" fill="#000" fill-opacity="0.36"/>
<path d="M194.90 176.60Q194.90 174.10 199.22 174.10Q200.90 174.10 202.58 174.10Q206.90 174.10 206.90 176.60Q206.90 179.10 202.58 179.10Q200.90 179.10 199.22 179.10Q194.90 179.10 194.90 176.60Z" fill="#000" fill-opacity="0.27"/>
<path d="M211.40 176.60Q211.40 174.10 215.00 174.10Q216.40 174.10 217.80 174.10Q221.40 174.10 221.40 176.60Q221.40 179.10 217.80 179.10Q216.40 179.10 215.00 179.10Q211.40 179.10 211.40 176.60Z" fill="#000" fill-opacity="0.1"/>
<path d="M227.40 176.60Q227.40 174.10 230.64 174.10Q231.90 174.10 233.16 174.10Q236.40 174.10 236.40 176.60Q236.40 179.10 233.16 179.10Q231.90 179.10 230.64 179.10Q227.40 179.10 227.40 176.60Z" fill="#000" fill-opacity="0.02"/>
</g>
<g filter="url(#b2)" clip-path="url(#c5)">
<path d="M132.10 180.70Q132.10 178.20 136.70 178.20Q138.90 178.20 141.10 178.20Q145.70 178.20 145.70 180.70Q145.70 183.20 141.10 183.20Q138.90 183.20 136.70 183.20Q132.10 183.20 132.10 180.70Z" fill="#000" fill-opacity="1"/>
<path d="M148.00 180.00Q148.00 177.50 152.60 177.50Q154.40 177.50 156.20 177.50Q160.80 177.50 160.80 180.00Q160.80 182.50 156.20 182.50Q154.40 182.50 152.60 182.50Q148.00 182.50 148.00 180.00Z" fill="#000" fill-opacity="0.85"/>
<path d="M163.60 180.20Q163.60 177.70 168.14 177.70Q169.90 177.70 171.66 177.70Q176.20 177.70 176.20 180.20Q176.20 182.70 171.66 182.70Q169.90 182.70 168.14 182.70Q163.60 182.70 163.60 180.20Z" fill="#000" fill-opacity="0.66"/>
<path d="M179.30 180.20Q179.30 177.70 183.69 177.70Q185.40 177.70 187.11 177.70Q191.50 177.70 191.50 180.20Q191.50 182.70 187.11 182.70Q185.40 182.70 183.69 182.70Q179.30 182.70 179.30 180.20Z" fill="#000" fill-opacity="0.5"/>
<path d="M194.90 179.80Q194.90 177.30 199.22 177.30Q200.90 177.30 202.58 177.30Q206.90 177.30 206.90 179.80Q206.90 182.30 202.58 182.30Q200.90 182.30 199.22 182.30Q194.90 182.30 194.90 179.80Z" fill="#000" fill-opacity="0.34"/>
<path d="M211.40 179.60Q211.40 177.10 215.00 177.10Q216.40 177.10 217.80 177.10Q221.40 177.10 221.40 179.60Q221.40 182.10 217.80 182.10Q216.40 182.10 215.00 182.10Q211.40 182.10 211.40 179.60Z" fill="#000" fill-opacity="0.14"/>
<path d="M227.40 179.40Q227.40 176.90 230.64 176.90Q231.90 176.90 233.16 176.90Q236.40 176.90 236.40 179.40Q236.40 181.90 233.16 181.90Q231.90 181.90 230.64 181.90Q227.40 181.90 227.40 179.40Z" fill="#000" fill-opacity="0.03"/>
</g>
<rect x="117.4" y="154.3" width="155.20" height="30.50" fill="none" stroke="#8c8c8c" stroke-width="0.7"/>
<rect x="117.4" y="187.8" width="155.20" height="21.00" fill="#e4e4e4"/>
<rect x="117.4" y="187.8" width="13.10" height="21.00" fill="url(#mk2)"/>
<rect x="130.0" y="187.8" width="0.9" height="21.00" fill="#8a8a8a"/>
<rect x="118.9" y="198.50" width="10.30" height="2" fill="#333" fill-opacity="0.5" filter="url(#b1)"/>
<clipPath id="c6"><rect x="130.7" y="187.8" width="141.90" height="21.00"/></clipPath>
<g filter="url(#b1)" clip-path="url(#c6)">
<path d="M131.90 197.40Q131.90 195.08 135.40 195.29Q138.90 195.71 142.40 195.29Q145.90 195.08 145.90 197.40Q145.90 200.28 142.40 200.49Q138.90 200.91 135.40 200.49Q131.90 200.28 131.90 197.40Z" fill="#000" fill-opacity="1"/>
<path d="M148.00 197.30Q148.00 194.88 151.45 195.09Q154.90 195.51 158.35 195.09Q161.80 194.88 161.80 197.30Q161.80 200.28 158.35 200.49Q154.90 200.91 151.45 200.49Q148.00 200.28 148.00 197.30Z" fill="#000" fill-opacity="1"/>
<path d="M164.00 197.30Q164.00 194.88 167.35 195.09Q170.70 195.51 174.05 195.09Q177.40 194.88 177.40 197.30Q177.40 200.28 174.05 200.49Q170.70 200.91 167.35 200.49Q164.00 200.28 164.00 197.30Z" fill="#000" fill-opacity="1"/>
<path d="M179.10 197.60Q179.10 194.78 182.50 194.99Q185.90 195.41 189.30 194.99Q192.70 194.78 192.70 197.60Q192.70 200.98 189.30 201.19Q185.90 201.61 182.50 201.19Q179.10 200.98 179.10 197.60Z" fill="#000" fill-opacity="1"/>
<path d="M195.50 196.80Q195.50 194.38 198.65 194.59Q201.80 195.01 204.95 194.59Q208.10 194.38 208.10 196.80Q208.10 199.78 204.95 199.99Q201.80 200.41 198.65 199.99Q195.50 199.78 195.50 196.80Z" fill="#000" fill-opacity="1"/>
<path d="M210.40 197.20Q210.40 194.48 213.60 194.69Q216.80 195.11 220.00 194.69Q223.20 194.48 223.20 197.20Q223.20 200.48 220.00 200.69Q216.80 201.11 213.60 200.69Q210.40 200.48 210.40 197.20Z" fill="#000" fill-opacity="1"/>
<path d="M226.20 196.60Q226.20 194.08 229.45 194.29Q232.70 194.71 235.95 194.29Q239.20 194.08 239.20 196.60Q239.20 199.68 235.95 199.89Q232.70 200.31 229.45 199.89Q226.20 199.68 226.20 196.60Z" fill="#000" fill-opacity="1"/>
<path d="M242.10 196.50Q242.10 194.68 245.30 194.89Q248.50 195.31 251.70 194.89Q254.90 194.68 254.90 196.50Q254.90 198.88 251.70 199.09Q248.50 199.51 245.30 199.09Q242.10 198.88 242.10 196.50Z" fill="#000" fill-opacity="1" transform="rotate(-7 248.50 197.20)"/>
<path d="M256.50 196.80Q256.50 194.00 260.35 194.00Q264.20 194.00 268.05 194.00Q271.90 194.00 271.90 196.80Q271.90 199.60 268.05 199.60Q264.20 199.60 260.35 199.60Q256.50 199.60 256.50 196.80Z" fill="#000" fill-opacity="1" transform="rotate(-13 264.20 196.80)"/>
</g>
<g filter="url(#b1)" clip-path="url(#c6)">
<path d="M133.30 198.30Q133.30 196.80 136.10 196.80Q138.90 196.80 141.70 196.80Q144.50 196.80 144.50 198.30Q144.50 199.80 141.70 199.80Q138.90 199.80 136.10 199.80Q133.30 199.80 133.30 198.30Z" fill="#000" fill-opacity="1"/>
<path d="M149.30 198.20Q149.30 196.70 152.10 196.70Q154.90 196.70 157.70 196.70Q160.50 196.70 160.50 198.20Q160.50 199.70 157.70 199.70Q154.90 199.70 152.10 199.70Q149.30 199.70 149.30 198.20Z" fill="#000" fill-opacity="1"/>
<path d="M165.10 198.20Q165.10 196.70 167.90 196.70Q170.70 196.70 173.50 196.70Q176.30 196.70 176.30 198.20Q176.30 199.70 173.50 199.70Q170.70 199.70 167.90 199.70Q165.10 199.70 165.10 198.20Z" fill="#000" fill-opacity="1"/>
<path d="M180.30 198.50Q180.30 196.70 183.10 196.70Q185.90 196.70 188.70 196.70Q191.50 196.70 191.50 198.50Q191.50 200.30 188.70 200.30Q185.90 200.30 183.10 200.30Q180.30 200.30 180.30 198.50Z" fill="#000" fill-opacity="1"/>
<path d="M196.20 197.70Q196.20 196.20 199.00 196.20Q201.80 196.20 204.60 196.20Q207.40 196.20 207.40 197.70Q207.40 199.20 204.60 199.20Q201.80 199.20 199.00 199.20Q196.20 199.20 196.20 197.70Z" fill="#000" fill-opacity="1"/>
<path d="M211.20 198.10Q211.20 196.40 214.00 196.40Q216.80 196.40 219.60 196.40Q222.40 196.40 222.40 198.10Q222.40 199.80 219.60 199.80Q216.80 199.80 214.00 199.80Q211.20 199.80 211.20 198.10Z" fill="#000" fill-opacity="1"/>
<path d="M227.10 197.50Q227.10 195.90 229.90 195.90Q232.70 195.90 235.50 195.90Q238.30 195.90 238.30 197.50Q238.30 199.10 235.50 199.10Q232.70 199.10 229.90 199.10Q227.10 199.10 227.10 197.50Z" fill="#000" fill-opacity="1"/>
<path d="M242.90 197.40Q242.90 196.40 245.70 196.40Q248.50 196.40 251.30 196.40Q254.10 196.40 254.10 197.40Q254.10 198.40 251.30 198.40Q248.50 198.40 245.70 198.40Q242.90 198.40 242.90 197.40Z" fill="#000" fill-opacity="0.8" transform="rotate(-7 248.50 197.40)"/>
<path d="M258.60 197.00Q258.60 195.50 261.40 195.50Q264.20 195.50 267.00 195.50Q269.80 195.50 269.80 197.00Q269.80 198.50 267.00 198.50Q264.20 198.50 261.40 198.50Q258.60 198.50 258.60 197.00Z" fill="#000" fill-opacity="1" transform="rotate(-13 264.20 197.00)"/>
</g>
<rect x="117.4" y="187.8" width="155.20" height="21.00" fill="none" stroke="#8c8c8c" stroke-width="0.7"/>
<rect x="117.4" y="215.5" width="155.70" height="30.10" fill="#f7f7f7"/>
<rect x="117.4" y="215.5" width="155.70" height="30.10" fill="url(#sm7)"/>
<rect x="117.4" y="215.5" width="12.70" height="30.10" fill="url(#mk4)"/>
<rect x="131.1" y="215.5" width="0.8" height="30.1" fill="#333"/>
<rect x="118.9" y="218.50" width="9.70" height="1.8" fill="#333" fill-opacity="0.2" filter="url(#b1)"/>
<rect x="118.9" y="230.40" width="9.70" height="2" fill="#333" fill-opacity="0.08" filter="url(#b1)"/>
<clipPath id="c7"><rect x="131.7" y="215.5" width="140.90" height="30.10"/></clipPath>
<g filter="url(#b2)" clip-path="url(#c7)">
<path d="M132.80 226.40Q132.80 221.80 137.40 221.80Q140.40 221.80 143.40 221.80Q148.00 221.80 148.00 226.40Q148.00 231.00 143.40 231.00Q140.40 231.00 137.40 231.00Q132.80 231.00 132.80 226.40Z" fill="#000" fill-opacity="0.9"/>
<path d="M149.30 226.60Q149.30 222.20 153.90 222.20Q156.70 222.20 159.50 222.20Q164.10 222.20 164.10 226.60Q164.10 231.00 159.50 231.00Q156.70 231.00 153.90 231.00Q149.30 231.00 149.30 226.60Z" fill="#000" fill-opacity="0.85"/>
<path d="M164.90 226.40Q164.90 221.80 169.50 221.80Q172.40 221.80 175.30 221.80Q179.90 221.80 179.90 226.40Q179.90 231.00 175.30 231.00Q172.40 231.00 169.50 231.00Q164.90 231.00 164.90 226.40Z" fill="#000" fill-opacity="0.9"/>
<path d="M180.80 226.40Q180.80 222.00 185.40 222.00Q188.50 222.00 191.60 222.00Q196.20 222.00 196.20 226.40Q196.20 230.80 191.60 230.80Q188.50 230.80 185.40 230.80Q180.80 230.80 180.80 226.40Z" fill="#000" fill-opacity="0.85"/>
<path d="M196.90 226.60Q196.90 222.60 201.50 222.60Q204.10 222.60 206.70 222.60Q211.30 222.60 211.30 226.60Q211.30 230.60 206.70 230.60Q204.10 230.60 201.50 230.60Q196.90 230.60 196.90 226.60Z" fill="#000" fill-opacity="0.6"/>
<path d="M213.00 227.00Q213.00 223.70 217.60 223.70Q219.80 223.70 222.00 223.70Q226.60 223.70 226.60 227.00Q226.60 230.30 222.00 230.30Q219.80 230.30 217.60 230.30Q213.00 230.30 213.00 227.00Z" fill="#000" fill-opacity="0.4"/>
<path d="M229.10 227.20Q229.10 224.70 233.70 224.70Q235.80 224.70 237.90 224.70Q242.50 224.70 242.50 227.20Q242.50 229.70 237.90 229.70Q235.80 229.70 233.70 229.70Q229.10 229.70 229.10 227.20Z" fill="#000" fill-opacity="0.36"/>
<path d="M245.50 226.40Q245.50 224.90 249.82 224.90Q251.50 224.90 253.18 224.90Q257.50 224.90 257.50 226.40Q257.50 227.90 253.18 227.90Q251.50 227.90 249.82 227.90Q245.50 227.90 245.50 226.40Z" fill="#000" fill-opacity="0.02"/>
<path d="M262.00 226.40Q262.00 224.90 265.60 224.90Q267.00 224.90 268.40 224.90Q272.00 224.90 272.00 226.40Q272.00 227.90 268.40 227.90Q267.00 227.90 265.60 227.90Q262.00 227.90 262.00 226.40Z" fill="#000" fill-opacity="0.02"/>
</g>
<g filter="url(#b1)" clip-path="url(#c7)">
<path d="M133.70 228.00Q133.70 225.44 138.30 225.32Q140.40 225.08 142.50 225.32Q147.10 225.44 147.10 228.00Q147.10 230.24 142.50 230.12Q140.40 229.88 138.30 230.12Q133.70 230.24 133.70 228.00Z" fill="#000" fill-opacity="1"/>
<path d="M150.20 228.20Q150.20 225.64 154.80 225.52Q156.70 225.28 158.60 225.52Q163.20 225.64 163.20 228.20Q163.20 230.44 158.60 230.32Q156.70 230.08 154.80 230.32Q150.20 230.44 150.20 228.20Z" fill="#000" fill-opacity="0.95"/>
<path d="M165.80 228.00Q165.80 225.44 170.40 225.32Q172.40 225.08 174.40 225.32Q179.00 225.44 179.00 228.00Q179.00 230.24 174.40 230.12Q172.40 229.88 170.40 230.12Q165.80 230.24 165.80 228.00Z" fill="#000" fill-opacity="1"/>
<path d="M181.80 228.00Q181.80 225.44 186.40 225.32Q188.50 225.08 190.60 225.32Q195.20 225.44 195.20 228.00Q195.20 230.24 190.60 230.12Q188.50 229.88 186.40 230.12Q181.80 230.24 181.80 228.00Z" fill="#000" fill-opacity="0.95"/>
<path d="M197.90 228.20Q197.90 225.64 202.36 225.52Q204.10 225.28 205.84 225.52Q210.30 225.64 210.30 228.20Q210.30 230.44 205.84 230.32Q204.10 230.08 202.36 230.32Q197.90 230.44 197.90 228.20Z" fill="#000" fill-opacity="0.6"/>
<path d="M214.00 228.40Q214.00 225.84 218.18 225.72Q219.80 225.48 221.42 225.72Q225.60 225.84 225.60 228.40Q225.60 230.64 221.42 230.52Q219.80 230.28 218.18 230.52Q214.00 230.64 214.00 228.40Z" fill="#000" fill-opacity="0.22"/>
<path d="M230.10 228.20Q230.10 225.64 234.20 225.52Q235.80 225.28 237.40 225.52Q241.50 225.64 241.50 228.20Q241.50 230.44 237.40 230.32Q235.80 230.08 234.20 230.32Q230.10 230.44 230.10 228.20Z" fill="#000" fill-opacity="0.14"/>
</g>
<g filter="url(#b2)" clip-path="url(#c7)">
<path d="M133.70 240.00Q133.70 237.62 138.30 237.86Q140.40 238.34 142.50 237.86Q147.10 237.62 147.10 240.00Q147.10 243.02 142.50 243.26Q140.40 243.74 138.30 243.26Q133.70 243.02 133.70 240.00Z" fill="#000" fill-opacity="0.6"/>
<path d="M150.10 240.00Q150.10 237.62 154.70 237.86Q156.70 238.34 158.70 237.86Q163.30 237.62 163.30 240.00Q163.30 243.02 158.70 243.26Q156.70 243.74 154.70 243.26Q150.10 243.02 150.10 240.00Z" fill="#000" fill-opacity="0.7"/>
<path d="M166.40 240.20Q166.40 237.82 170.72 238.06Q172.40 238.54 174.08 238.06Q178.40 237.82 178.40 240.20Q178.40 243.22 174.08 243.46Q172.40 243.94 170.72 243.46Q166.40 243.22 166.40 240.20Z" fill="#000" fill-opacity="0.42"/>
<path d="M182.50 240.20Q182.50 237.82 186.82 238.06Q188.50 238.54 190.18 238.06Q194.50 237.82 194.50 240.20Q194.50 243.22 190.18 243.46Q188.50 243.94 186.82 243.46Q182.50 243.22 182.50 240.20Z" fill="#000" fill-opacity="0.27"/>
<path d="M197.90 240.40Q197.90 238.02 202.36 238.26Q204.10 238.74 205.84 238.26Q210.30 238.02 210.30 240.40Q210.30 243.42 205.84 243.66Q204.10 244.14 202.36 243.66Q197.90 243.42 197.90 240.40Z" fill="#000" fill-opacity="0.17"/>
<path d="M215.80 240.40Q215.80 238.02 218.68 238.26Q219.80 238.74 220.92 238.26Q223.80 238.02 223.80 240.40Q223.80 243.42 220.92 243.66Q219.80 244.14 218.68 243.66Q215.80 243.42 215.80 240.40Z" fill="#000" fill-opacity="0.05"/>
</g>
<rect x="117.4" y="215.5" width="155.70" height="30.10" fill="none" stroke="#8c8c8c" stroke-width="0.7"/>
<rect x="117.4" y="248.6" width="155.70" height="21.00" fill="#d8d8d8"/>
<rect x="117.4" y="248.6" width="14.30" height="21.00" fill="url(#mk2)"/>
<rect x="131.2" y="248.6" width="0.9" height="21.00" fill="#333"/>
<rect x="118.9" y="258.20" width="11.30" height="2" fill="#333" fill-opacity="0.4" filter="url(#b1)"/>
<clipPath id="c8"><rect x="131.7" y="248.6" width="141.40" height="21.00"/></clipPath>
<g filter="url(#b1)" clip-path="url(#c8)">
<path d="M135.10 255.90Q135.10 254.06 138.36 254.33Q141.90 254.87 145.44 254.33Q148.70 254.06 148.70 255.90Q148.70 258.46 145.44 258.73Q141.90 259.27 138.36 258.73Q135.10 258.46 135.10 255.90Z" fill="#000" fill-opacity="1"/>
<path d="M150.80 256.80Q150.80 254.76 154.11 255.03Q157.70 255.57 161.29 255.03Q164.60 254.76 164.60 256.80Q164.60 259.56 161.29 259.83Q157.70 260.37 154.11 259.83Q150.80 259.56 150.80 256.80Z" fill="#000" fill-opacity="1"/>
<path d="M166.40 256.90Q166.40 254.86 169.52 255.13Q172.90 255.67 176.28 255.13Q179.40 254.86 179.40 256.90Q179.40 259.66 176.28 259.93Q172.90 260.47 169.52 259.93Q166.40 259.66 166.40 256.90Z" fill="#000" fill-opacity="1"/>
<path d="M181.70 257.00Q181.70 254.86 185.06 255.13Q188.70 255.67 192.34 255.13Q195.70 254.86 195.70 257.00Q195.70 259.86 192.34 260.13Q188.70 260.67 185.06 260.13Q181.70 259.86 181.70 257.00Z" fill="#000" fill-opacity="1"/>
<path d="M197.20 257.30Q197.20 254.86 200.51 255.13Q204.10 255.67 207.69 255.13Q211.00 254.86 211.00 257.30Q211.00 260.46 207.69 260.73Q204.10 261.27 200.51 260.73Q197.20 260.46 197.20 257.30Z" fill="#000" fill-opacity="1"/>
<path d="M212.60 257.40Q212.60 255.06 215.77 255.33Q219.20 255.87 222.63 255.33Q225.80 255.06 225.80 257.40Q225.80 260.46 222.63 260.73Q219.20 261.27 215.77 260.73Q212.60 260.46 212.60 257.40Z" fill="#000" fill-opacity="1"/>
<path d="M228.10 257.40Q228.10 255.06 231.41 255.33Q235.00 255.87 238.59 255.33Q241.90 255.06 241.90 257.40Q241.90 260.46 238.59 260.73Q235.00 261.27 231.41 260.73Q228.10 260.46 228.10 257.40Z" fill="#000" fill-opacity="1"/>
<path d="M243.80 257.20Q243.80 255.36 247.06 255.63Q250.60 256.17 254.14 255.63Q257.40 255.36 257.40 257.20Q257.40 259.76 254.14 260.03Q250.60 260.57 247.06 260.03Q243.80 259.76 243.80 257.20Z" fill="#000" fill-opacity="1"/>
<path d="M259.00 257.30Q259.00 254.70 262.36 254.70Q266.00 254.70 269.64 254.70Q273.00 254.70 273.00 257.30Q273.00 259.90 269.64 259.90Q266.00 259.90 262.36 259.90Q259.00 259.90 259.00 257.30Z" fill="#000" fill-opacity="1" transform="rotate(-12 266.00 257.30)"/>
</g>
<g filter="url(#b1)" clip-path="url(#c8)">
<path d="M136.30 256.50Q136.30 255.54 138.99 255.72Q141.90 256.08 144.81 255.72Q147.50 255.54 147.50 256.50Q147.50 257.94 144.81 258.12Q141.90 258.48 138.99 258.12Q136.30 257.94 136.30 256.50Z" fill="#000" fill-opacity="0.9"/>
<path d="M152.10 257.40Q152.10 256.24 154.79 256.42Q157.70 256.78 160.61 256.42Q163.30 256.24 163.30 257.40Q163.30 259.04 160.61 259.22Q157.70 259.58 154.79 259.22Q152.10 259.04 152.10 257.40Z" fill="#000" fill-opacity="1"/>
<path d="M167.30 257.50Q167.30 256.34 169.99 256.52Q172.90 256.88 175.81 256.52Q178.50 256.34 178.50 257.50Q178.50 259.14 175.81 259.32Q172.90 259.68 169.99 259.32Q167.30 259.14 167.30 257.50Z" fill="#000" fill-opacity="1"/>
<path d="M183.10 257.60Q183.10 256.34 185.79 256.52Q188.70 256.88 191.61 256.52Q194.30 256.34 194.30 257.60Q194.30 259.34 191.61 259.52Q188.70 259.88 185.79 259.52Q183.10 259.34 183.10 257.60Z" fill="#000" fill-opacity="1"/>
<path d="M198.50 257.90Q198.50 256.44 201.19 256.62Q204.10 256.98 207.01 256.62Q209.70 256.44 209.70 257.90Q209.70 259.84 207.01 260.02Q204.10 260.38 201.19 260.02Q198.50 259.84 198.50 257.90Z" fill="#000" fill-opacity="1"/>
<path d="M213.60 258.00Q213.60 256.64 216.29 256.82Q219.20 257.18 222.11 256.82Q224.80 256.64 224.80 258.00Q224.80 259.84 222.11 260.02Q219.20 260.38 216.29 260.02Q213.60 259.84 213.60 258.00Z" fill="#000" fill-opacity="1"/>
<path d="M229.40 258.00Q229.40 256.64 232.09 256.82Q235.00 257.18 237.91 256.82Q240.60 256.64 240.60 258.00Q240.60 259.84 237.91 260.02Q235.00 260.38 232.09 260.02Q229.40 259.84 229.40 258.00Z" fill="#000" fill-opacity="1"/>
<path d="M245.00 257.80Q245.00 256.84 247.69 257.02Q250.60 257.38 253.51 257.02Q256.20 256.84 256.20 257.80Q256.20 259.24 253.51 259.42Q250.60 259.78 247.69 259.42Q245.00 259.24 245.00 257.80Z" fill="#000" fill-opacity="0.9"/>
<path d="M260.40 257.60Q260.40 256.10 263.09 256.10Q266.00 256.10 268.91 256.10Q271.60 256.10 271.60 257.60Q271.60 259.10 268.91 259.10Q266.00 259.10 263.09 259.10Q260.40 259.10 260.40 257.60Z" fill="#000" fill-opacity="1" transform="rotate(-12 266.00 257.60)"/>
</g>
<rect x="117.4" y="248.6" width="155.70" height="21.00" fill="none" stroke="#8c8c8c" stroke-width="0.7"/>
<circle cx="163" cy="56.6" r="0.9" fill="#111"/>
<circle cx="179.5" cy="114.2" r="0.9" fill="#111"/>
<circle cx="226.5" cy="178.3" r="0.9" fill="#111"/>
<circle cx="216" cy="239.3" r="0.9" fill="#111"/>
<text x="176.00" y="15.40" font-size="10.2" font-weight="normal" text-anchor="start" fill="#222" textLength="53.00" lengthAdjust="spacingAndGlyphs" >Dox (µg/ml)</text>
<text x="125.40" y="33.10" font-size="7.6" font-weight="normal" text-anchor="middle" fill="#222" >M</text>
<text x="139.30" y="33.10" font-size="7.6" font-weight="normal" text-anchor="middle" fill="#222" >40</text>
<text x="154.70" y="33.10" font-size="7.6" font-weight="normal" text-anchor="middle" fill="#222" >20</text>
<text x="170.00" y="33.10" font-size="7.6" font-weight="normal" text-anchor="middle" fill="#222" >10</text>
<text x="184.80" y="33.10" font-size="7.6" font-weight="normal" text-anchor="middle" fill="#222" >5</text>
<text x="200.60" y="33.10" font-size="7.6" font-weight="normal" text-anchor="middle" fill="#222" >2.5</text>
<text x="216.60" y="33.10" font-size="7.6" font-weight="normal" text-anchor="middle" fill="#222" >1</text>
<text x="231.10" y="33.10" font-size="7.6" font-weight="normal" text-anchor="middle" fill="#222" >0.5</text>
<text x="247.60" y="33.10" font-size="7.6" font-weight="normal" text-anchor="middle" fill="#222" >0.1</text>
<text x="262.10" y="33.10" font-size="7.6" font-weight="normal" text-anchor="middle" fill="#222" >0</text>
<text x="112.10" y="42.99" font-size="8.9" font-weight="normal" text-anchor="end" fill="#111" >35</text>
<rect x="114.2" y="39.20" width="3.30" height="1.4" fill="#000"/>
<text x="112.10" y="55.19" font-size="8.9" font-weight="normal" text-anchor="end" fill="#111" >25</text>
<rect x="114.2" y="51.40" width="3.30" height="1.4" fill="#000"/>
<text x="112.10" y="75.49" font-size="8.9" font-weight="normal" text-anchor="end" fill="#111" >40</text>
<rect x="114.2" y="71.70" width="3.30" height="1.4" fill="#000"/>
<text x="112.10" y="88.49" font-size="8.9" font-weight="normal" text-anchor="end" fill="#111" >35</text>
<rect x="114.2" y="84.70" width="3.30" height="1.4" fill="#000"/>
<text x="112.10" y="102.79" font-size="8.9" font-weight="normal" text-anchor="end" fill="#111" >35</text>
<rect x="114.2" y="99.00" width="3.30" height="1.4" fill="#000"/>
<text x="112.10" y="114.89" font-size="8.9" font-weight="normal" text-anchor="end" fill="#111" >25</text>
<rect x="114.2" y="111.10" width="3.30" height="1.4" fill="#000"/>
<text x="112.10" y="137.59" font-size="8.9" font-weight="normal" text-anchor="end" fill="#111" >40</text>
<rect x="114.2" y="133.80" width="3.30" height="1.4" fill="#000"/>
<text x="112.10" y="148.99" font-size="8.9" font-weight="normal" text-anchor="end" fill="#111" >35</text>
<rect x="114.2" y="145.20" width="3.30" height="1.4" fill="#000"/>
<text x="112.10" y="162.39" font-size="8.9" font-weight="normal" text-anchor="end" fill="#111" >35</text>
<rect x="114.2" y="158.60" width="3.30" height="1.4" fill="#000"/>
<text x="112.10" y="174.39" font-size="8.9" font-weight="normal" text-anchor="end" fill="#111" >25</text>
<rect x="114.2" y="170.60" width="3.30" height="1.4" fill="#000"/>
<text x="112.10" y="203.19" font-size="8.9" font-weight="normal" text-anchor="end" fill="#111" >40</text>
<rect x="114.2" y="199.40" width="3.30" height="1.4" fill="#000"/>
<text x="112.10" y="222.59" font-size="8.9" font-weight="normal" text-anchor="end" fill="#111" >35</text>
<rect x="114.2" y="218.80" width="3.30" height="1.4" fill="#000"/>
<text x="112.10" y="234.59" font-size="8.9" font-weight="normal" text-anchor="end" fill="#111" >25</text>
<rect x="114.2" y="230.80" width="3.30" height="1.4" fill="#000"/>
<text x="112.10" y="262.99" font-size="8.9" font-weight="normal" text-anchor="end" fill="#111" >40</text>
<rect x="114.2" y="259.20" width="3.30" height="1.4" fill="#000"/>
<rect x="92.3" y="36.4" width="2.2" height="50.00" fill="#000"/>
<text x="86.80" y="66.60" font-size="10.1" font-weight="bold" text-anchor="end" fill="#111" textLength="39.80" lengthAdjust="spacingAndGlyphs" >WCL101</text>
<rect x="92.3" y="94.2" width="2.2" height="53.30" fill="#000"/>
<text x="86.80" y="124.10" font-size="10.1" font-weight="bold" text-anchor="end" fill="#111" textLength="39.80" lengthAdjust="spacingAndGlyphs" >WCL102</text>
<rect x="92.3" y="155.3" width="2.2" height="53.10" fill="#000"/>
<text x="86.80" y="187.60" font-size="10.1" font-weight="bold" text-anchor="end" fill="#111" textLength="39.80" lengthAdjust="spacingAndGlyphs" >WCL104</text>
<rect x="92.3" y="216" width="2.2" height="53.20" fill="#000"/>
<text x="86.80" y="247.80" font-size="10.1" font-weight="bold" text-anchor="end" fill="#111" textLength="39.80" lengthAdjust="spacingAndGlyphs" >WCL105</text>
<text x="278.60" y="53.60" font-size="10.1" font-weight="normal" text-anchor="start" fill="#222" >GFPmut2</text>
<text x="278.60" y="79.40" font-size="10.1" font-weight="normal" text-anchor="start" fill="#222" >ß-actin</text>
<text x="278.60" y="110.80" font-size="10.1" font-weight="normal" text-anchor="start" fill="#222" >GFPmut2</text>
<text x="278.60" y="137.60" font-size="10.1" font-weight="normal" text-anchor="start" fill="#222" >ß-actin</text>
<text x="278.60" y="175.10" font-size="10.1" font-weight="normal" text-anchor="start" fill="#222" >GFPmut2</text>
<text x="278.60" y="202.10" font-size="10.1" font-weight="normal" text-anchor="start" fill="#222" >ß-actin</text>
<text x="278.60" y="235.60" font-size="10.1" font-weight="normal" text-anchor="start" fill="#222" >GFPmut2</text>
<text x="278.60" y="262.40" font-size="10.1" font-weight="normal" text-anchor="start" fill="#222" >ß-actin</text>
<text x="97.60" y="286.80" font-size="9" font-weight="normal" text-anchor="start" fill="#1a1a1a" textLength="21.20" lengthAdjust="spacingAndGlyphs" >(kDa)</text>
<rect x="467.8" y="43" width="156.00" height="33.70" fill="#f6f6f6"/>
<rect x="467.8" y="43" width="11.80" height="33.70" fill="url(#mk3)"/>
<rect x="469.3" y="59.40" width="8.80" height="2.2" fill="#333" fill-opacity="0.22" filter="url(#b1)"/>
<rect x="469.3" y="45.40" width="8.80" height="1.6" fill="#333" fill-opacity="0.12" filter="url(#b1)"/>
<clipPath id="c9"><rect x="479.6" y="43" width="144.20" height="33.70"/></clipPath>
<g filter="url(#b2)" clip-path="url(#c9)">
<path d="M480.20 59.80Q480.20 55.58 484.80 55.94Q489.40 56.66 494.00 55.94Q498.60 55.58 498.60 59.80Q498.60 64.98 494.00 65.34Q489.40 66.06 484.80 65.34Q480.20 64.98 480.20 59.80Z" fill="#000" fill-opacity="1"/>
<path d="M498.40 59.80Q498.40 55.68 503.00 56.04Q506.60 56.76 510.20 56.04Q514.80 55.68 514.80 59.80Q514.80 64.88 510.20 65.24Q506.60 65.96 503.00 65.24Q498.40 64.88 498.40 59.80Z" fill="#000" fill-opacity="1"/>
<path d="M514.40 59.80Q514.40 55.68 519.00 56.04Q522.20 56.76 525.40 56.04Q530.00 55.68 530.00 59.80Q530.00 64.88 525.40 65.24Q522.20 65.96 519.00 65.24Q514.40 64.88 514.40 59.80Z" fill="#000" fill-opacity="1"/>
<path d="M530.50 60.00Q530.50 56.50 535.10 56.80Q537.80 57.40 540.50 56.80Q545.10 56.50 545.10 60.00Q545.10 64.30 540.50 64.60Q537.80 65.20 535.10 64.60Q530.50 64.30 530.50 60.00Z" fill="#000" fill-opacity="1"/>
<path d="M546.30 60.20Q546.30 56.72 550.90 56.96Q553.40 57.44 555.90 56.96Q560.50 56.72 560.50 60.20Q560.50 64.32 555.90 64.56Q553.40 65.04 550.90 64.56Q546.30 64.32 546.30 60.20Z" fill="#000" fill-opacity="0.9"/>
<path d="M562.10 61.00Q562.10 58.30 566.64 58.30Q568.40 58.30 570.16 58.30Q574.70 58.30 574.70 61.00Q574.70 63.70 570.16 63.70Q568.40 63.70 566.64 63.70Q562.10 63.70 562.10 61.00Z" fill="#000" fill-opacity="0.32"/>
<path d="M577.50 61.00Q577.50 59.00 581.46 59.00Q583.00 59.00 584.54 59.00Q588.50 59.00 588.50 61.00Q588.50 63.00 584.54 63.00Q583.00 63.00 581.46 63.00Q577.50 63.00 577.50 61.00Z" fill="#000" fill-opacity="0.07"/>
<path d="M594.00 61.00Q594.00 59.50 597.60 59.50Q599.00 59.50 600.40 59.50Q604.00 59.50 604.00 61.00Q604.00 62.50 600.40 62.50Q599.00 62.50 597.60 62.50Q594.00 62.50 594.00 61.00Z" fill="#000" fill-opacity="0.01"/>
</g>
<g filter="url(#b1)" clip-path="url(#c9)">
<path d="M481.20 60.20Q481.20 56.90 485.80 57.20Q489.40 57.80 493.00 57.20Q497.60 56.90 497.60 60.20Q497.60 64.30 493.00 64.60Q489.40 65.20 485.80 64.60Q481.20 64.30 481.20 60.20Z" fill="#000" fill-opacity="1"/>
<path d="M499.30 60.20Q499.30 57.00 503.90 57.30Q506.60 57.90 509.30 57.30Q513.90 57.00 513.90 60.20Q513.90 64.20 509.30 64.50Q506.60 65.10 503.90 64.50Q499.30 64.20 499.30 60.20Z" fill="#000" fill-opacity="1"/>
<path d="M515.20 60.20Q515.20 57.10 519.80 57.40Q522.20 58.00 524.60 57.40Q529.20 57.10 529.20 60.20Q529.20 64.10 524.60 64.40Q522.20 65.00 519.80 64.40Q515.20 64.10 515.20 60.20Z" fill="#000" fill-opacity="1"/>
<path d="M531.50 60.60Q531.50 58.22 536.04 58.46Q537.80 58.94 539.56 58.46Q544.10 58.22 544.10 60.60Q544.10 63.62 539.56 63.86Q537.80 64.34 536.04 63.86Q531.50 63.62 531.50 60.60Z" fill="#000" fill-opacity="1"/>
<path d="M547.40 61.40Q547.40 59.34 551.72 59.52Q553.40 59.88 555.08 59.52Q559.40 59.34 559.40 61.40Q559.40 63.94 555.08 64.12Q553.40 64.48 551.72 64.12Q547.40 63.94 547.40 61.40Z" fill="#000" fill-opacity="0.9"/>
<path d="M563.90 61.20Q563.90 59.70 567.14 59.70Q568.40 59.70 569.66 59.70Q572.90 59.70 572.90 61.20Q572.90 62.70 569.66 62.70Q568.40 62.70 567.14 62.70Q563.90 62.70 563.90 61.20Z" fill="#000" fill-opacity="0.08"/>
</g>
<rect x="467.8" y="43" width="156.00" height="33.70" fill="none" stroke="#8c8c8c" stroke-width="0.7"/>
<rect x="467.8" y="79" width="158.20" height="26.40" fill="#cbcbcb"/>
<rect x="467.8" y="79" width="13.20" height="26.40" fill="url(#mk3)"/>
<rect x="480.5" y="79" width="0.9" height="26.40" fill="#333"/>
<rect x="469.3" y="88.60" width="10.20" height="2.4" fill="#333" fill-opacity="0.4" filter="url(#b1)"/>
<rect x="469.3" y="101.80" width="10.20" height="2" fill="#333" fill-opacity="0.25" filter="url(#b1)"/>
<clipPath id="c10"><rect x="481" y="79" width="145.00" height="26.40"/></clipPath>
<g filter="url(#b1)" clip-path="url(#c10)">
<path d="M482.00 88.90Q482.00 86.26 486.00 86.53Q489.70 87.07 493.40 86.53Q497.40 86.26 497.40 88.90Q497.40 92.26 493.40 92.53Q489.70 93.07 486.00 92.53Q482.00 92.26 482.00 88.90Z" fill="#000" fill-opacity="1"/>
<path d="M499.40 89.20Q499.40 86.46 503.35 86.73Q507.00 87.27 510.65 86.73Q514.60 86.46 514.60 89.20Q514.60 92.66 510.65 92.93Q507.00 93.47 503.35 92.93Q499.40 92.66 499.40 89.20Z" fill="#000" fill-opacity="1"/>
<path d="M515.70 88.90Q515.70 86.16 519.50 86.43Q523.00 86.97 526.50 86.43Q530.30 86.16 530.30 88.90Q530.30 92.36 526.50 92.63Q523.00 93.17 519.50 92.63Q515.70 92.36 515.70 88.90Z" fill="#000" fill-opacity="1"/>
<path d="M531.50 88.90Q531.50 86.66 535.04 86.93Q538.30 87.47 541.56 86.93Q545.10 86.66 545.10 88.90Q545.10 91.86 541.56 92.13Q538.30 92.67 535.04 92.13Q531.50 91.86 531.50 88.90Z" fill="#000" fill-opacity="1"/>
<path d="M546.50 89.10Q546.50 86.66 550.30 86.93Q553.80 87.47 557.30 86.93Q561.10 86.66 561.10 89.10Q561.10 92.26 557.30 92.53Q553.80 93.07 550.30 92.53Q546.50 92.26 546.50 89.10Z" fill="#000" fill-opacity="1"/>
<path d="M562.90 89.20Q562.90 86.66 566.75 86.93Q570.30 87.47 573.85 86.93Q577.70 86.66 577.70 89.20Q577.70 92.46 573.85 92.73Q570.30 93.27 566.75 92.73Q562.90 92.46 562.90 89.20Z" fill="#000" fill-opacity="1"/>
<path d="M578.90 89.30Q578.90 86.76 582.75 87.03Q586.30 87.57 589.85 87.03Q593.70 86.76 593.70 89.30Q593.70 92.56 589.85 92.83Q586.30 93.37 582.75 92.83Q578.90 92.56 578.90 89.30Z" fill="#000" fill-opacity="1"/>
<path d="M594.90 89.30Q594.90 86.86 598.70 87.13Q602.20 87.67 605.70 87.13Q609.50 86.86 609.50 89.30Q609.50 92.46 605.70 92.73Q602.20 93.27 598.70 92.73Q594.90 92.46 594.90 89.30Z" fill="#000" fill-opacity="1"/>
<path d="M610.20 89.10Q610.20 86.86 613.58 87.13Q616.70 87.67 619.82 87.13Q623.20 86.86 623.20 89.10Q623.20 92.06 619.82 92.33Q616.70 92.87 613.58 92.33Q610.20 92.06 610.20 89.10Z" fill="#000" fill-opacity="1"/>
</g>
<g filter="url(#b1)" clip-path="url(#c10)">
<path d="M483.20 89.50Q483.20 88.08 486.58 88.29Q489.70 88.71 492.82 88.29Q496.20 88.08 496.20 89.50Q496.20 91.48 492.82 91.69Q489.70 92.11 486.58 91.69Q483.20 91.48 483.20 89.50Z" fill="#000" fill-opacity="1"/>
<path d="M500.50 89.80Q500.50 88.38 503.88 88.59Q507.00 89.01 510.12 88.59Q513.50 88.38 513.50 89.80Q513.50 91.78 510.12 91.99Q507.00 92.41 503.88 91.99Q500.50 91.78 500.50 89.80Z" fill="#000" fill-opacity="1"/>
<path d="M516.50 89.50Q516.50 88.08 519.88 88.29Q523.00 88.71 526.12 88.29Q529.50 88.08 529.50 89.50Q529.50 91.48 526.12 91.69Q523.00 92.11 519.88 91.69Q516.50 91.48 516.50 89.50Z" fill="#000" fill-opacity="1"/>
<path d="M531.80 89.50Q531.80 88.08 535.18 88.29Q538.30 88.71 541.42 88.29Q544.80 88.08 544.80 89.50Q544.80 91.48 541.42 91.69Q538.30 92.11 535.18 91.69Q531.80 91.48 531.80 89.50Z" fill="#000" fill-opacity="0.9"/>
<path d="M547.30 89.70Q547.30 88.28 550.68 88.49Q553.80 88.91 556.92 88.49Q560.30 88.28 560.30 89.70Q560.30 91.68 556.92 91.89Q553.80 92.31 550.68 91.89Q547.30 91.68 547.30 89.70Z" fill="#000" fill-opacity="1"/>
<path d="M563.80 89.80Q563.80 88.38 567.18 88.59Q570.30 89.01 573.42 88.59Q576.80 88.38 576.80 89.80Q576.80 91.78 573.42 91.99Q570.30 92.41 567.18 91.99Q563.80 91.78 563.80 89.80Z" fill="#000" fill-opacity="1"/>
<path d="M579.80 89.90Q579.80 88.48 583.18 88.69Q586.30 89.11 589.42 88.69Q592.80 88.48 592.80 89.90Q592.80 91.88 589.42 92.09Q586.30 92.51 583.18 92.09Q579.80 91.88 579.80 89.90Z" fill="#000" fill-opacity="1"/>
<path d="M595.70 89.90Q595.70 88.48 599.08 88.69Q602.20 89.11 605.32 88.69Q608.70 88.48 608.70 89.90Q608.70 91.88 605.32 92.09Q602.20 92.51 599.08 92.09Q595.70 91.88 595.70 89.90Z" fill="#000" fill-opacity="1"/>
<path d="M610.20 89.70Q610.20 88.28 613.58 88.49Q616.70 88.91 619.82 88.49Q623.20 88.28 623.20 89.70Q623.20 91.68 619.82 91.89Q616.70 92.31 613.58 91.89Q610.20 91.68 610.20 89.70Z" fill="#000" fill-opacity="0.9"/>
</g>
<rect x="467.8" y="79" width="158.20" height="26.40" fill="none" stroke="#8c8c8c" stroke-width="0.7"/>
<rect x="467.40000000000003" y="169.4" width="157.80" height="33.20" fill="#f2f2f2"/>
<rect x="483.6" y="169.4" width="13.20" height="33.20" fill="url(#mk6)"/>
<rect x="483.3" y="169.4" width="0.6" height="33.2" fill="#666"/><rect x="496.5" y="169.4" width="0.6" height="33.2" fill="#8a8a8a"/>
<rect x="485.7" y="170.80" width="9.40" height="2.2" fill="#333" fill-opacity="0.3" filter="url(#b1)"/>
<rect x="485.7" y="184.60" width="9.40" height="2.4" fill="#333" fill-opacity="0.25" filter="url(#b1)"/>
<rect x="485.7" y="198.00" width="9.40" height="2.6" fill="#333" fill-opacity="0.22" filter="url(#b1)"/>
<clipPath id="c11"><rect x="467.40000000000003" y="169.4" width="16.00" height="33.20"/></clipPath>
<clipPath id="c12"><rect x="497" y="169.4" width="128.20" height="33.20"/></clipPath>
<g filter="url(#b2)" clip-path="url(#c11)">
<path d="M468.60 185.50Q468.60 181.62 473.20 181.86Q476.40 182.34 479.60 181.86Q484.20 181.62 484.20 185.50Q484.20 190.02 479.60 190.26Q476.40 190.74 473.20 190.26Q468.60 190.02 468.60 185.50Z" fill="#000" fill-opacity="1"/>
</g>
<g filter="url(#b1)" clip-path="url(#c11)">
<path d="M469.60 186.20Q469.60 183.64 474.20 183.82Q476.40 184.18 478.60 183.82Q483.20 183.64 483.20 186.20Q483.20 189.24 478.60 189.42Q476.40 189.78 474.20 189.42Q469.60 189.24 469.60 186.20Z" fill="#000" fill-opacity="1"/>
</g>
<g filter="url(#b2)" clip-path="url(#c12)">
<path d="M497.20 185.30Q497.20 181.00 501.80 181.30Q505.40 181.90 509.00 181.30Q513.60 181.00 513.60 185.30Q513.60 190.40 509.00 190.70Q505.40 191.30 501.80 190.70Q497.20 190.40 497.20 185.30Z" fill="#000" fill-opacity="1"/>
<path d="M513.60 185.30Q513.60 180.90 518.20 181.20Q521.90 181.80 525.60 181.20Q530.20 180.90 530.20 185.30Q530.20 190.50 525.60 190.80Q521.90 191.40 518.20 190.80Q513.60 190.50 513.60 185.30Z" fill="#000" fill-opacity="1"/>
<path d="M529.90 185.30Q529.90 181.30 534.50 181.60Q537.40 182.20 540.30 181.60Q544.90 181.30 544.90 185.30Q544.90 190.10 540.30 190.40Q537.40 191.00 534.50 190.40Q529.90 190.10 529.90 185.30Z" fill="#000" fill-opacity="1"/>
<path d="M546.10 185.80Q546.10 182.32 550.70 182.56Q552.90 183.04 555.10 182.56Q559.70 182.32 559.70 185.80Q559.70 189.92 555.10 190.16Q552.90 190.64 550.70 190.16Q546.10 189.92 546.10 185.80Z" fill="#000" fill-opacity="0.9"/>
<path d="M561.50 186.60Q561.50 183.60 566.04 183.60Q567.80 183.60 569.56 183.60Q574.10 183.60 574.10 186.60Q574.10 189.60 569.56 189.60Q567.80 189.60 566.04 189.60Q561.50 189.60 561.50 186.60Z" fill="#000" fill-opacity="0.36"/>
<path d="M576.60 186.60Q576.60 184.10 580.78 184.10Q582.40 184.10 584.02 184.10Q588.20 184.10 588.20 186.60Q588.20 189.10 584.02 189.10Q582.40 189.10 580.78 189.10Q576.60 189.10 576.60 186.60Z" fill="#000" fill-opacity="0.2"/>
<path d="M593.10 188.30Q593.10 185.80 597.06 185.80Q598.60 185.80 600.14 185.80Q604.10 185.80 604.10 188.30Q604.10 190.80 600.14 190.80Q598.60 190.80 597.06 190.80Q593.10 190.80 593.10 188.30Z" fill="#000" fill-opacity="0.03"/>
<path d="M607.50 188.30Q607.50 184.80 611.46 184.80Q613.00 184.80 614.54 184.80Q618.50 184.80 618.50 188.30Q618.50 191.80 614.54 191.80Q613.00 191.80 611.46 191.80Q607.50 191.80 607.50 188.30Z" fill="#000" fill-opacity="0.06"/>
</g>
<g filter="url(#b1)" clip-path="url(#c12)">
<path d="M498.10 186.00Q498.10 183.02 502.70 183.26Q505.40 183.74 508.10 183.26Q512.70 183.02 512.70 186.00Q512.70 189.62 508.10 189.86Q505.40 190.34 502.70 189.86Q498.10 189.62 498.10 186.00Z" fill="#000" fill-opacity="1"/>
<path d="M514.50 186.00Q514.50 182.92 519.10 183.16Q521.90 183.64 524.70 183.16Q529.30 182.92 529.30 186.00Q529.30 189.72 524.70 189.96Q521.90 190.44 519.10 189.96Q514.50 189.72 514.50 186.00Z" fill="#000" fill-opacity="1"/>
<path d="M530.90 186.00Q530.90 183.32 535.50 183.56Q537.40 184.04 539.30 183.56Q543.90 183.32 543.90 186.00Q543.90 189.32 539.30 189.56Q537.40 190.04 535.50 189.56Q530.90 189.32 530.90 186.00Z" fill="#000" fill-opacity="1"/>
<path d="M547.10 187.00Q547.10 185.04 551.28 185.22Q552.90 185.58 554.52 185.22Q558.70 185.04 558.70 187.00Q558.70 189.44 554.52 189.62Q552.90 189.98 551.28 189.62Q547.10 189.44 547.10 187.00Z" fill="#000" fill-opacity="0.85"/>
<path d="M562.80 187.60Q562.80 186.10 566.40 186.10Q567.80 186.10 569.20 186.10Q572.80 186.10 572.80 187.60Q572.80 189.10 569.20 189.10Q567.80 189.10 566.40 189.10Q562.80 189.10 562.80 187.60Z" fill="#000" fill-opacity="0.12"/>
<path d="M577.90 187.60Q577.90 186.30 581.14 186.30Q582.40 186.30 583.66 186.30Q586.90 186.30 586.90 187.60Q586.90 188.90 583.66 188.90Q582.40 188.90 581.14 188.90Q577.90 188.90 577.90 187.60Z" fill="#000" fill-opacity="0.03"/>
</g>
<rect x="467.40000000000003" y="169.4" width="157.80" height="33.20" fill="none" stroke="#8c8c8c" stroke-width="0.7"/>
<rect x="467.40000000000003" y="206.2" width="157.80" height="26.00" fill="#cdcdcd"/>
<rect x="483.2" y="206.2" width="15.40" height="26.00" fill="#adadad"/>
<rect x="483.0" y="206.2" width="0.7" height="26" fill="#333"/><rect x="498.1" y="206.2" width="0.7" height="26" fill="#333"/>
<rect x="487.5" y="220.40" width="9.60" height="2" fill="#333" fill-opacity="0.3" filter="url(#b1)"/>
<rect x="489.5" y="209.70" width="7.60" height="1.8" fill="#333" fill-opacity="0.18" filter="url(#b1)"/>
<circle cx="492.2" cy="212.2" r="1.0" fill="#fff"/>
<circle cx="486.4" cy="215.4" r="1.0" fill="#fff"/>
<circle cx="485.8" cy="218.4" r="1.0" fill="#fff"/>
<circle cx="488.6" cy="225" r="1.0" fill="#fff"/>
<circle cx="486.2" cy="226.7" r="1.0" fill="#fff"/>
<circle cx="485.6" cy="209.2" r="1.0" fill="#fff"/>
<clipPath id="c13"><rect x="467.40000000000003" y="206.2" width="15.60" height="26.00"/></clipPath>
<g filter="url(#b1)" clip-path="url(#c13)">
<path d="M469.40 218.60Q469.40 215.74 474.00 215.92Q476.70 216.28 479.40 215.92Q484.00 215.74 484.00 218.60Q484.00 221.94 479.40 222.12Q476.70 222.48 474.00 222.12Q469.40 221.94 469.40 218.60Z" fill="#000" fill-opacity="1"/>
</g>
<g filter="url(#b1)" clip-path="url(#c13)">
<path d="M470.40 219.50Q470.40 217.90 474.94 217.90Q476.70 217.90 478.46 217.90Q483.00 217.90 483.00 219.50Q483.00 221.10 478.46 221.10Q476.70 221.10 474.94 221.10Q470.40 221.10 470.40 219.50Z" fill="#000" fill-opacity="1"/>
</g>
<clipPath id="c14"><rect x="498.8" y="206.2" width="126.40" height="26.00"/></clipPath>
<g filter="url(#b1)" clip-path="url(#c14)">
<path d="M499.20 218.40Q499.20 216.44 503.80 216.62Q506.00 216.98 508.20 216.62Q512.80 216.44 512.80 218.40Q512.80 220.84 508.20 221.02Q506.00 221.38 503.80 221.02Q499.20 220.84 499.20 218.40Z" fill="#000" fill-opacity="0.9"/>
<path d="M515.20 218.00Q515.20 215.54 519.80 215.72Q522.20 216.08 524.60 215.72Q529.20 215.54 529.20 218.00Q529.20 220.94 524.60 221.12Q522.20 221.48 519.80 221.12Q515.20 220.94 515.20 218.00Z" fill="#000" fill-opacity="1"/>
<path d="M530.50 217.80Q530.50 215.44 535.10 215.62Q537.50 215.98 539.90 215.62Q544.50 215.44 544.50 217.80Q544.50 220.64 539.90 220.82Q537.50 221.18 535.10 220.82Q530.50 220.64 530.50 217.80Z" fill="#000" fill-opacity="1"/>
<path d="M546.30 217.80Q546.30 215.24 550.90 215.42Q553.60 215.78 556.30 215.42Q560.90 215.24 560.90 217.80Q560.90 220.84 556.30 221.02Q553.60 221.38 550.90 221.02Q546.30 220.84 546.30 217.80Z" fill="#000" fill-opacity="1"/>
<path d="M562.10 217.70Q562.10 215.04 566.70 215.22Q569.50 215.58 572.30 215.22Q576.90 215.04 576.90 217.70Q576.90 220.84 572.30 221.02Q569.50 221.38 566.70 221.02Q562.10 220.84 562.10 217.70Z" fill="#000" fill-opacity="1"/>
<path d="M577.90 217.20Q577.90 214.14 582.50 214.32Q585.60 214.68 588.70 214.32Q593.30 214.14 593.30 217.20Q593.30 220.74 588.70 220.92Q585.60 221.28 582.50 220.92Q577.90 220.74 577.90 217.20Z" fill="#000" fill-opacity="1"/>
<path d="M594.30 216.70Q594.30 213.94 598.90 214.12Q602.00 214.48 605.10 214.12Q609.70 213.94 609.70 216.70Q609.70 219.94 605.10 220.12Q602.00 220.48 598.90 220.12Q594.30 219.94 594.30 216.70Z" fill="#000" fill-opacity="1"/>
<path d="M610.00 215.80Q610.00 212.74 614.60 212.92Q617.30 213.28 620.00 212.92Q624.60 212.74 624.60 215.80Q624.60 219.34 620.00 219.52Q617.30 219.88 614.60 219.52Q610.00 219.34 610.00 215.80Z" fill="#000" fill-opacity="1" transform="rotate(-10 617.30 216.40)"/>
</g>
<g filter="url(#b1)" clip-path="url(#c14)">
<path d="M499.70 219.30Q499.70 217.70 504.24 217.70Q506.00 217.70 507.76 217.70Q512.30 217.70 512.30 219.30Q512.30 220.90 507.76 220.90Q506.00 220.90 504.24 220.90Q499.70 220.90 499.70 219.30Z" fill="#000" fill-opacity="0.55"/>
<path d="M515.90 218.90Q515.90 217.30 520.44 217.30Q522.20 217.30 523.96 217.30Q528.50 217.30 528.50 218.90Q528.50 220.50 523.96 220.50Q522.20 220.50 520.44 220.50Q515.90 220.50 515.90 218.90Z" fill="#000" fill-opacity="0.9"/>
<path d="M531.20 218.70Q531.20 217.10 535.74 217.10Q537.50 217.10 539.26 217.10Q543.80 217.10 543.80 218.70Q543.80 220.30 539.26 220.30Q537.50 220.30 535.74 220.30Q531.20 220.30 531.20 218.70Z" fill="#000" fill-opacity="0.9"/>
<path d="M547.30 218.70Q547.30 217.10 551.84 217.10Q553.60 217.10 555.36 217.10Q559.90 217.10 559.90 218.70Q559.90 220.30 555.36 220.30Q553.60 220.30 551.84 220.30Q547.30 220.30 547.30 218.70Z" fill="#000" fill-opacity="1"/>
<path d="M563.20 218.60Q563.20 217.00 567.74 217.00Q569.50 217.00 571.26 217.00Q575.80 217.00 575.80 218.60Q575.80 220.20 571.26 220.20Q569.50 220.20 567.74 220.20Q563.20 220.20 563.20 218.60Z" fill="#000" fill-opacity="1"/>
<path d="M579.30 218.10Q579.30 216.50 583.84 216.50Q585.60 216.50 587.36 216.50Q591.90 216.50 591.90 218.10Q591.90 219.70 587.36 219.70Q585.60 219.70 583.84 219.70Q579.30 219.70 579.30 218.10Z" fill="#000" fill-opacity="1"/>
<path d="M595.70 217.60Q595.70 216.00 600.24 216.00Q602.00 216.00 603.76 216.00Q608.30 216.00 608.30 217.60Q608.30 219.20 603.76 219.20Q602.00 219.20 600.24 219.20Q595.70 219.20 595.70 217.60Z" fill="#000" fill-opacity="1"/>
<path d="M611.00 216.70Q611.00 215.10 615.54 215.10Q617.30 215.10 619.06 215.10Q623.60 215.10 623.60 216.70Q623.60 218.30 619.06 218.30Q617.30 218.30 615.54 218.30Q611.00 218.30 611.00 216.70Z" fill="#000" fill-opacity="1" transform="rotate(-10 617.30 216.70)"/>
</g>
<rect x="467.40000000000003" y="206.2" width="157.80" height="26.00" fill="none" stroke="#8c8c8c" stroke-width="0.7"/>
<text x="523.00" y="22.80" font-size="10.2" font-weight="normal" text-anchor="start" fill="#222" textLength="52.00" lengthAdjust="spacingAndGlyphs" >Dox (µg/ml)</text>
<text x="522.50" y="148.40" font-size="10.2" font-weight="normal" text-anchor="start" fill="#222" textLength="52.50" lengthAdjust="spacingAndGlyphs" >Dox (µg/ml)</text>
<text x="473.60" y="39.70" font-size="7.5" font-weight="normal" text-anchor="middle" fill="#151515" >M</text>
<text x="488.00" y="39.70" font-size="7.5" font-weight="normal" text-anchor="middle" fill="#151515" >40</text>
<text x="506.00" y="39.70" font-size="7.5" font-weight="normal" text-anchor="middle" fill="#151515" >20</text>
<text x="521.50" y="39.70" font-size="7.5" font-weight="normal" text-anchor="middle" fill="#151515" >10</text>
<text x="537.50" y="39.70" font-size="7.5" font-weight="normal" text-anchor="middle" fill="#151515" >5</text>
<text x="552.50" y="39.70" font-size="7.5" font-weight="normal" text-anchor="middle" fill="#151515" >2.5</text>
<text x="568.40" y="39.70" font-size="7.5" font-weight="normal" text-anchor="middle" fill="#151515" >1</text>
<text x="583.50" y="39.70" font-size="7.5" font-weight="normal" text-anchor="middle" fill="#151515" >0.5</text>
<text x="599.30" y="39.70" font-size="7.5" font-weight="normal" text-anchor="middle" fill="#151515" >0.1</text>
<text x="615.00" y="39.70" font-size="7.5" font-weight="normal" text-anchor="middle" fill="#151515" >0</text>
<text x="475.60" y="165.60" font-size="7.5" font-weight="normal" text-anchor="middle" fill="#151515" >40</text>
<text x="491.40" y="165.60" font-size="7.5" font-weight="normal" text-anchor="middle" fill="#151515" >M</text>
<text x="504.40" y="165.60" font-size="7.5" font-weight="normal" text-anchor="middle" fill="#151515" >20</text>
<text x="520.80" y="165.60" font-size="7.5" font-weight="normal" text-anchor="middle" fill="#151515" >10</text>
<text x="536.90" y="165.60" font-size="7.5" font-weight="normal" text-anchor="middle" fill="#151515" >5</text>
<text x="552.60" y="165.60" font-size="7.5" font-weight="normal" text-anchor="middle" fill="#151515" >2.5</text>
<text x="566.00" y="165.60" font-size="7.5" font-weight="normal" text-anchor="middle" fill="#151515" >1</text>
<text x="581.50" y="165.60" font-size="7.5" font-weight="normal" text-anchor="middle" fill="#151515" >0.5</text>
<text x="598.60" y="165.60" font-size="7.5" font-weight="normal" text-anchor="middle" fill="#151515" >0.1</text>
<text x="612.80" y="165.60" font-size="7.5" font-weight="normal" text-anchor="middle" fill="#151515" >0</text>
<text x="462.20" y="49.90" font-size="9.5" font-weight="normal" text-anchor="end" fill="#111" >35</text>
<rect x="463.8" y="45.90" width="3.60" height="1.4" fill="#000"/>
<text x="462.20" y="63.70" font-size="9.5" font-weight="normal" text-anchor="end" fill="#111" >25</text>
<rect x="463.8" y="59.70" width="3.60" height="1.4" fill="#000"/>
<text x="462.20" y="93.10" font-size="9.5" font-weight="normal" text-anchor="end" fill="#111" >40</text>
<rect x="463.8" y="89.10" width="3.60" height="1.4" fill="#000"/>
<text x="462.20" y="106.40" font-size="9.5" font-weight="normal" text-anchor="end" fill="#111" >35</text>
<rect x="463.8" y="102.40" width="3.60" height="1.4" fill="#000"/>
<text x="462.20" y="175.70" font-size="9.5" font-weight="normal" text-anchor="end" fill="#111" >35</text>
<rect x="463.8" y="171.70" width="3.60" height="1.4" fill="#000"/>
<text x="462.20" y="189.00" font-size="9.5" font-weight="normal" text-anchor="end" fill="#111" >25</text>
<rect x="463.8" y="185.00" width="3.60" height="1.4" fill="#000"/>
<text x="462.20" y="225.40" font-size="9.5" font-weight="normal" text-anchor="end" fill="#111" >40</text>
<rect x="463.8" y="221.40" width="3.60" height="1.4" fill="#000"/>
<rect x="444.2" y="44" width="2.2" height="60.40" fill="#000"/>
<text x="436.40" y="77.00" font-size="10.1" font-weight="bold" text-anchor="end" fill="#111" textLength="39.40" lengthAdjust="spacingAndGlyphs" >WCL103</text>
<rect x="444.2" y="168.4" width="2.2" height="61.60" fill="#000"/>
<text x="436.40" y="207.60" font-size="10.1" font-weight="bold" text-anchor="end" fill="#111" textLength="39.40" lengthAdjust="spacingAndGlyphs" >WCL105</text>
<text x="633.00" y="64.40" font-size="9.4" font-weight="normal" text-anchor="start" fill="#151515" textLength="34.00" lengthAdjust="spacingAndGlyphs" >mCherry</text>
<text x="633.00" y="93.20" font-size="9.4" font-weight="normal" text-anchor="start" fill="#151515" textLength="27.50" lengthAdjust="spacingAndGlyphs" >ß-actin</text>
<text x="633.00" y="189.20" font-size="9.4" font-weight="normal" text-anchor="start" fill="#151515" textLength="34.00" lengthAdjust="spacingAndGlyphs" >mCherry</text>
<text x="633.00" y="219.40" font-size="9.4" font-weight="normal" text-anchor="start" fill="#151515" textLength="27.50" lengthAdjust="spacingAndGlyphs" >ß-actin</text>
<text x="446.20" y="249.80" font-size="9" font-weight="normal" text-anchor="start" fill="#1a1a1a" textLength="21.20" lengthAdjust="spacingAndGlyphs" >(kDa)</text>
<rect x="61.50" y="437.86" width="11.6" height="32.44" fill="url(#p0)" stroke="#000" stroke-width="1.25"/>
<path d="M67.30 433.57V442.16M64.10 433.57H70.50M64.10 442.16H70.50" stroke="#000" stroke-width="1.25" fill="none"/>
<rect x="79.35" y="448.36" width="11.6" height="21.94" fill="url(#p1)" stroke="#000" stroke-width="1.25"/>
<path d="M85.15 444.30V452.17M81.95 444.30H88.35M81.95 452.17H88.35" stroke="#000" stroke-width="1.25" fill="none"/>
<rect x="97.20" y="459.33" width="11.6" height="10.97" fill="url(#p2)" stroke="#000" stroke-width="1.25"/>
<path d="M103.00 454.56V463.86M99.80 454.56H106.20M99.80 463.86H106.20" stroke="#000" stroke-width="1.25" fill="none"/>
<rect x="115.05" y="465.05" width="11.6" height="5.25" fill="url(#p3)" stroke="#000" stroke-width="1.25"/>
<path d="M120.85 460.52V468.87M117.65 460.52H124.05M117.65 468.87H124.05" stroke="#000" stroke-width="1.25" fill="none"/>
<rect x="132.90" y="468.39" width="11.6" height="1.91" fill="url(#p4)" stroke="#000" stroke-width="1.25"/>
<path d="M138.70 466.25V470.30M135.50 466.25H141.90M135.50 470.30H141.90" stroke="#000" stroke-width="1.25" fill="none"/>
<rect x="150.75" y="469.94" width="11.6" height="0.36" fill="url(#p5)" stroke="#000" stroke-width="1.25"/>
<path d="M58.3 374.40V481.80" stroke="#000" stroke-width="1.2"/>
<path d="M57.699999999999996 470.3H220" stroke="#000" stroke-width="1.2"/>
<path d="M54.9 470.30H58.3" stroke="#000" stroke-width="1.1"/>
<text x="54.10" y="473.25" font-size="8.3" font-weight="bold" text-anchor="end" fill="#111" >0</text>
<path d="M54.9 446.45H58.3" stroke="#000" stroke-width="1.1"/>
<text x="54.10" y="449.40" font-size="8.3" font-weight="bold" text-anchor="end" fill="#111" >1</text>
<path d="M54.9 422.60H58.3" stroke="#000" stroke-width="1.1"/>
<text x="54.10" y="425.55" font-size="8.3" font-weight="bold" text-anchor="end" fill="#111" >2</text>
<path d="M54.9 398.75H58.3" stroke="#000" stroke-width="1.1"/>
<text x="54.10" y="401.70" font-size="8.3" font-weight="bold" text-anchor="end" fill="#111" >3</text>
<path d="M54.9 374.90H58.3" stroke="#000" stroke-width="1.1"/>
<text x="54.10" y="377.85" font-size="8.3" font-weight="bold" text-anchor="end" fill="#111" >4</text>
<path d="M67.30 470.3V473.5" stroke="#000" stroke-width="1.1"/>
<text font-size="8.9" font-weight="bold" text-anchor="end" fill="#111" transform="translate(71.30,480.70) rotate(-45)">40</text>
<path d="M85.15 470.3V473.5" stroke="#000" stroke-width="1.1"/>
<text font-size="8.9" font-weight="bold" text-anchor="end" fill="#111" transform="translate(89.15,480.70) rotate(-45)">20</text>
<path d="M103.00 470.3V473.5" stroke="#000" stroke-width="1.1"/>
<text font-size="8.9" font-weight="bold" text-anchor="end" fill="#111" transform="translate(107.00,480.70) rotate(-45)">10</text>
<path d="M120.85 470.3V473.5" stroke="#000" stroke-width="1.1"/>
<text font-size="8.9" font-weight="bold" text-anchor="end" fill="#111" transform="translate(124.85,480.70) rotate(-45)">5</text>
<path d="M138.70 470.3V473.5" stroke="#000" stroke-width="1.1"/>
<text font-size="8.9" font-weight="bold" text-anchor="end" fill="#111" transform="translate(142.70,480.70) rotate(-45)">2.5</text>
<path d="M156.55 470.3V473.5" stroke="#000" stroke-width="1.1"/>
<text font-size="8.9" font-weight="bold" text-anchor="end" fill="#111" transform="translate(160.55,480.70) rotate(-45)">1</text>
<path d="M174.40 470.3V473.5" stroke="#000" stroke-width="1.1"/>
<text font-size="8.9" font-weight="bold" text-anchor="end" fill="#111" transform="translate(178.40,480.70) rotate(-45)">0.5</text>
<path d="M192.25 470.3V473.5" stroke="#000" stroke-width="1.1"/>
<text font-size="8.9" font-weight="bold" text-anchor="end" fill="#111" transform="translate(196.25,480.70) rotate(-45)">0.1</text>
<path d="M210.10 470.3V473.5" stroke="#000" stroke-width="1.1"/>
<text font-size="8.9" font-weight="bold" text-anchor="end" fill="#111" transform="translate(214.10,480.70) rotate(-45)">0</text>
<path d="M67.30 427.30V424.50H210.10V427.30" stroke="#000" stroke-width="1.1" fill="none"/>
<text x="135.30" y="422.00" font-size="7.8" font-weight="bold" text-anchor="middle" fill="#111" >***</text>
<path d="M85.15 439.40V436.60H210.10V439.40" stroke="#000" stroke-width="1.1" fill="none"/>
<text x="145.00" y="434.50" font-size="7.8" font-weight="bold" text-anchor="middle" fill="#111" >***</text>
<path d="M103.00 450.80V448.00H210.10V450.80" stroke="#000" stroke-width="1.1" fill="none"/>
<text x="156.80" y="447.10" font-size="7.8" font-weight="bold" text-anchor="middle" fill="#111" >*</text>
<text x="121.50" y="362.00" font-size="8.6" font-weight="bold" text-anchor="middle" fill="#111" textLength="34.00" lengthAdjust="spacingAndGlyphs" >WCL101</text>
<text font-size="9.9" font-weight="bold" text-anchor="middle" fill="#111" textLength="55" lengthAdjust="spacingAndGlyphs" transform="translate(24.0,427.3) rotate(-90)">Fold change</text>
<text font-size="9.9" font-weight="bold" text-anchor="middle" fill="#111" textLength="89.61" lengthAdjust="spacingAndGlyphs" transform="translate(39.1,426.5) rotate(-90)">(GFPmut2/β-actin)</text>
<text x="138.50" y="504.70" font-size="10" font-weight="bold" text-anchor="middle" fill="#111" textLength="57.00" lengthAdjust="spacingAndGlyphs" >Dox (<tspan font-weight="normal">µ</tspan>g/ml)</text>
<rect x="278.60" y="437.36" width="11.6" height="32.34" fill="url(#p0)" stroke="#000" stroke-width="1.25"/>
<path d="M284.40 434.03V440.21M281.20 434.03H287.60M281.20 440.21H287.60" stroke="#000" stroke-width="1.25" fill="none"/>
<rect x="296.50" y="441.64" width="11.6" height="28.06" fill="url(#p1)" stroke="#000" stroke-width="1.25"/>
<path d="M302.30 439.50V444.26M299.10 439.50H305.50M299.10 444.26H305.50" stroke="#000" stroke-width="1.25" fill="none"/>
<rect x="314.40" y="449.25" width="11.6" height="20.45" fill="url(#p2)" stroke="#000" stroke-width="1.25"/>
<path d="M320.20 444.97V454.24M317.00 444.97H323.40M317.00 454.24H323.40" stroke="#000" stroke-width="1.25" fill="none"/>
<rect x="332.30" y="457.33" width="11.6" height="12.37" fill="url(#p3)" stroke="#000" stroke-width="1.25"/>
<path d="M338.10 453.29V461.61M334.90 453.29H341.30M334.90 461.61H341.30" stroke="#000" stroke-width="1.25" fill="none"/>
<rect x="350.20" y="464.23" width="11.6" height="5.47" fill="url(#p4)" stroke="#000" stroke-width="1.25"/>
<path d="M356.00 460.19V467.56M352.80 460.19H359.20M352.80 467.56H359.20" stroke="#000" stroke-width="1.25" fill="none"/>
<rect x="368.10" y="468.63" width="11.6" height="1.07" fill="url(#p5)" stroke="#000" stroke-width="1.25"/>
<path d="M373.90 467.08V469.70M370.70 467.08H377.10M370.70 469.70H377.10" stroke="#000" stroke-width="1.25" fill="none"/>
<path d="M275.4 374.08V481.20" stroke="#000" stroke-width="1.2"/>
<path d="M274.79999999999995 469.7H436.8" stroke="#000" stroke-width="1.2"/>
<path d="M272.0 469.70H275.4" stroke="#000" stroke-width="1.1"/>
<text x="271.20" y="472.65" font-size="8.3" font-weight="bold" text-anchor="end" fill="#111" >0</text>
<path d="M272.0 445.92H275.4" stroke="#000" stroke-width="1.1"/>
<text x="271.20" y="448.87" font-size="8.3" font-weight="bold" text-anchor="end" fill="#111" >1</text>
<path d="M272.0 422.14H275.4" stroke="#000" stroke-width="1.1"/>
<text x="271.20" y="425.09" font-size="8.3" font-weight="bold" text-anchor="end" fill="#111" >2</text>
<path d="M272.0 398.36H275.4" stroke="#000" stroke-width="1.1"/>
<text x="271.20" y="401.31" font-size="8.3" font-weight="bold" text-anchor="end" fill="#111" >3</text>
<path d="M272.0 374.58H275.4" stroke="#000" stroke-width="1.1"/>
<text x="271.20" y="377.53" font-size="8.3" font-weight="bold" text-anchor="end" fill="#111" >4</text>
<path d="M284.40 469.7V472.9" stroke="#000" stroke-width="1.1"/>
<text font-size="8.9" font-weight="bold" text-anchor="end" fill="#111" transform="translate(288.40,480.10) rotate(-45)">40</text>
<path d="M302.30 469.7V472.9" stroke="#000" stroke-width="1.1"/>
<text font-size="8.9" font-weight="bold" text-anchor="end" fill="#111" transform="translate(306.30,480.10) rotate(-45)">20</text>
<path d="M320.20 469.7V472.9" stroke="#000" stroke-width="1.1"/>
<text font-size="8.9" font-weight="bold" text-anchor="end" fill="#111" transform="translate(324.20,480.10) rotate(-45)">10</text>
<path d="M338.10 469.7V472.9" stroke="#000" stroke-width="1.1"/>
<text font-size="8.9" font-weight="bold" text-anchor="end" fill="#111" transform="translate(342.10,480.10) rotate(-45)">5</text>
<path d="M356.00 469.7V472.9" stroke="#000" stroke-width="1.1"/>
<text font-size="8.9" font-weight="bold" text-anchor="end" fill="#111" transform="translate(360.00,480.10) rotate(-45)">2.5</text>
<path d="M373.90 469.7V472.9" stroke="#000" stroke-width="1.1"/>
<text font-size="8.9" font-weight="bold" text-anchor="end" fill="#111" transform="translate(377.90,480.10) rotate(-45)">1</text>
<path d="M391.80 469.7V472.9" stroke="#000" stroke-width="1.1"/>
<text font-size="8.9" font-weight="bold" text-anchor="end" fill="#111" transform="translate(395.80,480.10) rotate(-45)">0.5</text>
<path d="M409.70 469.7V472.9" stroke="#000" stroke-width="1.1"/>
<text font-size="8.9" font-weight="bold" text-anchor="end" fill="#111" transform="translate(413.70,480.10) rotate(-45)">0.1</text>
<path d="M427.60 469.7V472.9" stroke="#000" stroke-width="1.1"/>
<text font-size="8.9" font-weight="bold" text-anchor="end" fill="#111" transform="translate(431.60,480.10) rotate(-45)">0</text>
<path d="M284.40 423.40V420.60H427.60V423.40" stroke="#000" stroke-width="1.1" fill="none"/>
<text x="356.00" y="418.10" font-size="7.8" font-weight="bold" text-anchor="middle" fill="#111" >***</text>
<path d="M302.30 432.20V429.40H427.60V432.20" stroke="#000" stroke-width="1.1" fill="none"/>
<text x="362.00" y="428.20" font-size="7.8" font-weight="bold" text-anchor="middle" fill="#111" >***</text>
<path d="M320.20 441.20V438.40H427.60V441.20" stroke="#000" stroke-width="1.1" fill="none"/>
<text x="370.00" y="437.50" font-size="7.8" font-weight="bold" text-anchor="middle" fill="#111" >***</text>
<text x="338.50" y="362.10" font-size="8.6" font-weight="bold" text-anchor="middle" fill="#111" textLength="34.00" lengthAdjust="spacingAndGlyphs" >WCL102</text>
<text font-size="9.9" font-weight="bold" text-anchor="middle" fill="#111" textLength="55" lengthAdjust="spacingAndGlyphs" transform="translate(241.6,428.40000000000003) rotate(-90)">Fold change</text>
<text font-size="9.9" font-weight="bold" text-anchor="middle" fill="#111" textLength="90.12" lengthAdjust="spacingAndGlyphs" transform="translate(256.3,427.6) rotate(-90)">(GFPmut2/β-actin)</text>
<text x="355.10" y="505.10" font-size="10" font-weight="bold" text-anchor="middle" fill="#111" textLength="57.00" lengthAdjust="spacingAndGlyphs" >Dox (<tspan font-weight="normal">µ</tspan>g/ml)</text>
<rect x="61.50" y="598.92" width="11.6" height="56.88" fill="url(#p0)" stroke="#000" stroke-width="1.25"/>
<path d="M67.30 588.16V609.91M64.10 588.16H70.50M64.10 609.91H70.50" stroke="#000" stroke-width="1.25" fill="none"/>
<rect x="79.35" y="594.62" width="11.6" height="61.18" fill="url(#p1)" stroke="#000" stroke-width="1.25"/>
<path d="M85.15 575.02V614.21M81.95 575.02H88.35M81.95 614.21H88.35" stroke="#000" stroke-width="1.25" fill="none"/>
<rect x="97.20" y="598.92" width="11.6" height="56.88" fill="url(#p2)" stroke="#000" stroke-width="1.25"/>
<path d="M103.00 583.62V613.74M99.80 583.62H106.20M99.80 613.74H106.20" stroke="#000" stroke-width="1.25" fill="none"/>
<rect x="115.05" y="610.39" width="11.6" height="45.41" fill="url(#p3)" stroke="#000" stroke-width="1.25"/>
<path d="M120.85 597.48V623.77M117.65 597.48H124.05M117.65 623.77H124.05" stroke="#000" stroke-width="1.25" fill="none"/>
<rect x="132.90" y="615.65" width="11.6" height="40.15" fill="url(#p4)" stroke="#000" stroke-width="1.25"/>
<path d="M138.70 603.70V627.36M135.50 603.70H141.90M135.50 627.36H141.90" stroke="#000" stroke-width="1.25" fill="none"/>
<rect x="150.75" y="634.29" width="11.6" height="21.51" fill="url(#p5)" stroke="#000" stroke-width="1.25"/>
<path d="M156.55 624.73V643.85M153.35 624.73H159.75M153.35 643.85H159.75" stroke="#000" stroke-width="1.25" fill="none"/>
<rect x="168.60" y="644.09" width="11.6" height="11.71" fill="url(#p6)" stroke="#000" stroke-width="1.25"/>
<path d="M174.40 636.68V651.02M171.20 636.68H177.60M171.20 651.02H177.60" stroke="#000" stroke-width="1.25" fill="none"/>
<rect x="186.45" y="654.60" width="11.6" height="1.20" fill="url(#p7)" stroke="#000" stroke-width="1.25"/>
<path d="M192.25 652.93V655.80M189.05 652.93H195.45M189.05 655.80H195.45" stroke="#000" stroke-width="1.25" fill="none"/>
<path d="M58.3 559.70V667.30" stroke="#000" stroke-width="1.2"/>
<path d="M57.699999999999996 655.8H220" stroke="#000" stroke-width="1.2"/>
<path d="M54.9 655.80H58.3" stroke="#000" stroke-width="1.1"/>
<text x="54.10" y="658.75" font-size="8.3" font-weight="bold" text-anchor="end" fill="#111" >0</text>
<path d="M54.9 631.90H58.3" stroke="#000" stroke-width="1.1"/>
<text x="54.10" y="634.85" font-size="8.3" font-weight="bold" text-anchor="end" fill="#111" >1</text>
<path d="M54.9 608.00H58.3" stroke="#000" stroke-width="1.1"/>
<text x="54.10" y="610.95" font-size="8.3" font-weight="bold" text-anchor="end" fill="#111" >2</text>
<path d="M54.9 584.10H58.3" stroke="#000" stroke-width="1.1"/>
<text x="54.10" y="587.05" font-size="8.3" font-weight="bold" text-anchor="end" fill="#111" >3</text>
<path d="M54.9 560.20H58.3" stroke="#000" stroke-width="1.1"/>
<text x="54.10" y="563.15" font-size="8.3" font-weight="bold" text-anchor="end" fill="#111" >4</text>
<path d="M67.30 655.8V659.0" stroke="#000" stroke-width="1.1"/>
<text font-size="8.9" font-weight="bold" text-anchor="end" fill="#111" transform="translate(71.30,666.20) rotate(-45)">40</text>
<path d="M85.15 655.8V659.0" stroke="#000" stroke-width="1.1"/>
<text font-size="8.9" font-weight="bold" text-anchor="end" fill="#111" transform="translate(89.15,666.20) rotate(-45)">20</text>
<path d="M103.00 655.8V659.0" stroke="#000" stroke-width="1.1"/>
<text font-size="8.9" font-weight="bold" text-anchor="end" fill="#111" transform="translate(107.00,666.20) rotate(-45)">10</text>
<path d="M120.85 655.8V659.0" stroke="#000" stroke-width="1.1"/>
<text font-size="8.9" font-weight="bold" text-anchor="end" fill="#111" transform="translate(124.85,666.20) rotate(-45)">5</text>
<path d="M138.70 655.8V659.0" stroke="#000" stroke-width="1.1"/>
<text font-size="8.9" font-weight="bold" text-anchor="end" fill="#111" transform="translate(142.70,666.20) rotate(-45)">2.5</text>
<path d="M156.55 655.8V659.0" stroke="#000" stroke-width="1.1"/>
<text font-size="8.9" font-weight="bold" text-anchor="end" fill="#111" transform="translate(160.55,666.20) rotate(-45)">1</text>
<path d="M174.40 655.8V659.0" stroke="#000" stroke-width="1.1"/>
<text font-size="8.9" font-weight="bold" text-anchor="end" fill="#111" transform="translate(178.40,666.20) rotate(-45)">0.5</text>
<path d="M192.25 655.8V659.0" stroke="#000" stroke-width="1.1"/>
<text font-size="8.9" font-weight="bold" text-anchor="end" fill="#111" transform="translate(196.25,666.20) rotate(-45)">0.1</text>
<path d="M210.10 655.8V659.0" stroke="#000" stroke-width="1.1"/>
<text font-size="8.9" font-weight="bold" text-anchor="end" fill="#111" transform="translate(214.10,666.20) rotate(-45)">0</text>
<path d="M67.30 561.40V558.60H210.10V561.40" stroke="#000" stroke-width="1.1" fill="none"/>
<text x="139.00" y="556.50" font-size="7.8" font-weight="bold" text-anchor="middle" fill="#111" >***</text>
<path d="M85.15 571.10V568.30H210.10V571.10" stroke="#000" stroke-width="1.1" fill="none"/>
<text x="148.20" y="566.50" font-size="7.8" font-weight="bold" text-anchor="middle" fill="#111" >***</text>
<path d="M103.00 580.80V578.00H210.10V580.80" stroke="#000" stroke-width="1.1" fill="none"/>
<text x="154.30" y="576.20" font-size="7.8" font-weight="bold" text-anchor="middle" fill="#111" >***</text>
<path d="M120.85 591.10V588.30H210.10V591.10" stroke="#000" stroke-width="1.1" fill="none"/>
<text x="164.00" y="586.50" font-size="7.8" font-weight="bold" text-anchor="middle" fill="#111" >**</text>
<path d="M138.70 601.10V598.30H210.10V601.10" stroke="#000" stroke-width="1.1" fill="none"/>
<text x="172.30" y="596.40" font-size="7.8" font-weight="bold" text-anchor="middle" fill="#111" >*</text>
<text x="121.20" y="536.70" font-size="8.6" font-weight="bold" text-anchor="middle" fill="#111" textLength="34.00" lengthAdjust="spacingAndGlyphs" >WCL104</text>
<text font-size="9.9" font-weight="bold" text-anchor="middle" fill="#111" textLength="55" lengthAdjust="spacingAndGlyphs" transform="translate(24.0,613.3) rotate(-90)">Fold change</text>
<text font-size="9.9" font-weight="bold" text-anchor="middle" fill="#111" textLength="89.61" lengthAdjust="spacingAndGlyphs" transform="translate(39.1,612.5) rotate(-90)">(GFPmut2/β-actin)</text>
<text x="138.10" y="690.90" font-size="10" font-weight="bold" text-anchor="middle" fill="#111" textLength="57.00" lengthAdjust="spacingAndGlyphs" >Dox (<tspan font-weight="normal">µ</tspan>g/ml)</text>
<rect x="278.60" y="618.56" width="11.6" height="37.44" fill="url(#p0)" stroke="#000" stroke-width="1.25"/>
<path d="M284.40 605.68V632.15M281.20 605.68H287.60M281.20 632.15H287.60" stroke="#000" stroke-width="1.25" fill="none"/>
<rect x="296.50" y="616.41" width="11.6" height="39.59" fill="url(#p1)" stroke="#000" stroke-width="1.25"/>
<path d="M302.30 605.68V626.90M299.10 605.68H305.50M299.10 626.90H305.50" stroke="#000" stroke-width="1.25" fill="none"/>
<rect x="314.40" y="618.56" width="11.6" height="37.44" fill="url(#p2)" stroke="#000" stroke-width="1.25"/>
<path d="M320.20 615.69V620.70M317.00 615.69H323.40M317.00 620.70H323.40" stroke="#000" stroke-width="1.25" fill="none"/>
<rect x="332.30" y="625.47" width="11.6" height="30.53" fill="url(#p3)" stroke="#000" stroke-width="1.25"/>
<path d="M338.10 621.42V629.76M334.90 621.42H341.30M334.90 629.76H341.30" stroke="#000" stroke-width="1.25" fill="none"/>
<rect x="350.20" y="635.97" width="11.6" height="20.03" fill="url(#p4)" stroke="#000" stroke-width="1.25"/>
<path d="M356.00 633.58V638.11M352.80 633.58H359.20M352.80 638.11H359.20" stroke="#000" stroke-width="1.25" fill="none"/>
<rect x="368.10" y="646.94" width="11.6" height="9.06" fill="url(#p5)" stroke="#000" stroke-width="1.25"/>
<path d="M373.90 644.31V650.28M370.70 644.31H377.10M370.70 650.28H377.10" stroke="#000" stroke-width="1.25" fill="none"/>
<rect x="386.00" y="651.95" width="11.6" height="4.05" fill="url(#p6)" stroke="#000" stroke-width="1.25"/>
<path d="M391.80 649.56V655.05M388.60 649.56H395.00M388.60 655.05H395.00" stroke="#000" stroke-width="1.25" fill="none"/>
<path d="M275.4 560.10V667.50" stroke="#000" stroke-width="1.2"/>
<path d="M274.79999999999995 656H436.8" stroke="#000" stroke-width="1.2"/>
<path d="M272.0 656.00H275.4" stroke="#000" stroke-width="1.1"/>
<text x="271.20" y="658.95" font-size="8.3" font-weight="bold" text-anchor="end" fill="#111" >0</text>
<path d="M272.0 632.15H275.4" stroke="#000" stroke-width="1.1"/>
<text x="271.20" y="635.10" font-size="8.3" font-weight="bold" text-anchor="end" fill="#111" >1</text>
<path d="M272.0 608.30H275.4" stroke="#000" stroke-width="1.1"/>
<text x="271.20" y="611.25" font-size="8.3" font-weight="bold" text-anchor="end" fill="#111" >2</text>
<path d="M272.0 584.45H275.4" stroke="#000" stroke-width="1.1"/>
<text x="271.20" y="587.40" font-size="8.3" font-weight="bold" text-anchor="end" fill="#111" >3</text>
<path d="M272.0 560.60H275.4" stroke="#000" stroke-width="1.1"/>
<text x="271.20" y="563.55" font-size="8.3" font-weight="bold" text-anchor="end" fill="#111" >4</text>
<path d="M284.40 656V659.2" stroke="#000" stroke-width="1.1"/>
<text font-size="8.9" font-weight="bold" text-anchor="end" fill="#111" transform="translate(288.40,666.40) rotate(-45)">40</text>
<path d="M302.30 656V659.2" stroke="#000" stroke-width="1.1"/>
<text font-size="8.9" font-weight="bold" text-anchor="end" fill="#111" transform="translate(306.30,666.40) rotate(-45)">20</text>
<path d="M320.20 656V659.2" stroke="#000" stroke-width="1.1"/>
<text font-size="8.9" font-weight="bold" text-anchor="end" fill="#111" transform="translate(324.20,666.40) rotate(-45)">10</text>
<path d="M338.10 656V659.2" stroke="#000" stroke-width="1.1"/>
<text font-size="8.9" font-weight="bold" text-anchor="end" fill="#111" transform="translate(342.10,666.40) rotate(-45)">5</text>
<path d="M356.00 656V659.2" stroke="#000" stroke-width="1.1"/>
<text font-size="8.9" font-weight="bold" text-anchor="end" fill="#111" transform="translate(360.00,666.40) rotate(-45)">2.5</text>
<path d="M373.90 656V659.2" stroke="#000" stroke-width="1.1"/>
<text font-size="8.9" font-weight="bold" text-anchor="end" fill="#111" transform="translate(377.90,666.40) rotate(-45)">1</text>
<path d="M391.80 656V659.2" stroke="#000" stroke-width="1.1"/>
<text font-size="8.9" font-weight="bold" text-anchor="end" fill="#111" transform="translate(395.80,666.40) rotate(-45)">0.5</text>
<path d="M409.70 656V659.2" stroke="#000" stroke-width="1.1"/>
<text font-size="8.9" font-weight="bold" text-anchor="end" fill="#111" transform="translate(413.70,666.40) rotate(-45)">0.1</text>
<path d="M427.60 656V659.2" stroke="#000" stroke-width="1.1"/>
<text font-size="8.9" font-weight="bold" text-anchor="end" fill="#111" transform="translate(431.60,666.40) rotate(-45)">0</text>
<path d="M284.40 587.30V584.50H427.90V587.30" stroke="#000" stroke-width="1.1" fill="none"/>
<text x="357.00" y="582.90" font-size="7.8" font-weight="bold" text-anchor="middle" fill="#111" >***</text>
<path d="M302.30 598.00V595.20H427.90V598.00" stroke="#000" stroke-width="1.1" fill="none"/>
<text x="363.30" y="593.30" font-size="7.8" font-weight="bold" text-anchor="middle" fill="#111" >***</text>
<path d="M320.20 608.80V606.00H427.90V608.80" stroke="#000" stroke-width="1.1" fill="none"/>
<text x="370.40" y="604.10" font-size="7.8" font-weight="bold" text-anchor="middle" fill="#111" >***</text>
<path d="M338.10 619.50V616.70H427.90V619.50" stroke="#000" stroke-width="1.1" fill="none"/>
<text x="380.10" y="614.40" font-size="7.8" font-weight="bold" text-anchor="middle" fill="#111" >***</text>
<path d="M356.00 630.30V627.50H427.90V630.30" stroke="#000" stroke-width="1.1" fill="none"/>
<text x="388.50" y="625.30" font-size="7.8" font-weight="bold" text-anchor="middle" fill="#111" >*</text>
<text x="338.80" y="548.20" font-size="8.6" font-weight="bold" text-anchor="middle" fill="#111" textLength="34.00" lengthAdjust="spacingAndGlyphs" >WCL105</text>
<text font-size="9.9" font-weight="bold" text-anchor="middle" fill="#111" textLength="55" lengthAdjust="spacingAndGlyphs" transform="translate(241.6,614.5999999999999) rotate(-90)">Fold change</text>
<text font-size="9.9" font-weight="bold" text-anchor="middle" fill="#111" textLength="90.12" lengthAdjust="spacingAndGlyphs" transform="translate(256.3,613.8) rotate(-90)">(GFPmut2/β-actin)</text>
<text x="355.10" y="690.80" font-size="10" font-weight="bold" text-anchor="middle" fill="#111" textLength="57.00" lengthAdjust="spacingAndGlyphs" >Dox (<tspan font-weight="normal">µ</tspan>g/ml)</text>
<rect x="526.30" y="428.44" width="11.8" height="39.16" fill="url(#p0)" stroke="#000" stroke-width="1.25"/>
<path d="M532.20 419.24V437.43M529.00 419.24H535.40M529.00 437.43H535.40" stroke="#000" stroke-width="1.25" fill="none"/>
<rect x="544.13" y="425.66" width="11.8" height="41.94" fill="url(#p1)" stroke="#000" stroke-width="1.25"/>
<path d="M550.03 408.11V443.85M546.83 408.11H553.23M546.83 443.85H553.23" stroke="#000" stroke-width="1.25" fill="none"/>
<rect x="561.96" y="432.29" width="11.8" height="35.31" fill="url(#p2)" stroke="#000" stroke-width="1.25"/>
<path d="M567.86 418.59V446.20M564.66 418.59H571.06M564.66 446.20H571.06" stroke="#000" stroke-width="1.25" fill="none"/>
<rect x="579.79" y="435.07" width="11.8" height="32.53" fill="url(#p3)" stroke="#000" stroke-width="1.25"/>
<path d="M585.69 423.73V445.56M582.49 423.73H588.89M582.49 445.56H588.89" stroke="#000" stroke-width="1.25" fill="none"/>
<rect x="597.62" y="441.28" width="11.8" height="26.32" fill="url(#p4)" stroke="#000" stroke-width="1.25"/>
<path d="M603.52 434.64V447.91M600.32 434.64H606.72M600.32 447.91H606.72" stroke="#000" stroke-width="1.25" fill="none"/>
<rect x="615.45" y="458.83" width="11.8" height="8.77" fill="url(#p5)" stroke="#000" stroke-width="1.25"/>
<path d="M621.35 455.62V462.25M618.15 455.62H624.55M618.15 462.25H624.55" stroke="#000" stroke-width="1.25" fill="none"/>
<rect x="633.28" y="464.82" width="11.8" height="2.78" fill="url(#p6)" stroke="#000" stroke-width="1.25"/>
<path d="M639.18 463.11V466.96M635.98 463.11H642.38M635.98 466.96H642.38" stroke="#000" stroke-width="1.25" fill="none"/>
<path d="M522.8 360.10V467.60" stroke="#000" stroke-width="1.2"/>
<path d="M522.1999999999999 467.6H683.8" stroke="#000" stroke-width="1.2"/>
<path d="M519.4 467.60H522.8" stroke="#000" stroke-width="1.1"/>
<text x="518.60" y="470.55" font-size="8.3" font-weight="bold" text-anchor="end" fill="#111" >0</text>
<path d="M519.4 446.20H522.8" stroke="#000" stroke-width="1.1"/>
<text x="518.60" y="449.15" font-size="8.3" font-weight="bold" text-anchor="end" fill="#111" >1</text>
<path d="M519.4 424.80H522.8" stroke="#000" stroke-width="1.1"/>
<text x="518.60" y="427.75" font-size="8.3" font-weight="bold" text-anchor="end" fill="#111" >2</text>
<path d="M519.4 403.40H522.8" stroke="#000" stroke-width="1.1"/>
<text x="518.60" y="406.35" font-size="8.3" font-weight="bold" text-anchor="end" fill="#111" >3</text>
<path d="M519.4 382.00H522.8" stroke="#000" stroke-width="1.1"/>
<text x="518.60" y="384.95" font-size="8.3" font-weight="bold" text-anchor="end" fill="#111" >4</text>
<path d="M519.4 360.60H522.8" stroke="#000" stroke-width="1.1"/>
<text x="518.60" y="363.55" font-size="8.3" font-weight="bold" text-anchor="end" fill="#111" >5</text>
<path d="M532.20 467.6V470.8" stroke="#000" stroke-width="1.1"/>
<text font-size="8.9" font-weight="bold" text-anchor="end" fill="#111" transform="translate(535.40,478.00) rotate(-45)">40</text>
<path d="M550.03 467.6V470.8" stroke="#000" stroke-width="1.1"/>
<text font-size="8.9" font-weight="bold" text-anchor="end" fill="#111" transform="translate(553.23,478.00) rotate(-45)">20</text>
<path d="M567.86 467.6V470.8" stroke="#000" stroke-width="1.1"/>
<text font-size="8.9" font-weight="bold" text-anchor="end" fill="#111" transform="translate(571.06,478.00) rotate(-45)">10</text>
<path d="M585.69 467.6V470.8" stroke="#000" stroke-width="1.1"/>
<text font-size="8.9" font-weight="bold" text-anchor="end" fill="#111" transform="translate(588.89,478.00) rotate(-45)">5</text>
<path d="M603.52 467.6V470.8" stroke="#000" stroke-width="1.1"/>
<text font-size="8.9" font-weight="bold" text-anchor="end" fill="#111" transform="translate(606.72,478.00) rotate(-45)">2.5</text>
<path d="M621.35 467.6V470.8" stroke="#000" stroke-width="1.1"/>
<text font-size="8.9" font-weight="bold" text-anchor="end" fill="#111" transform="translate(624.55,478.00) rotate(-45)">1</text>
<path d="M639.18 467.6V470.8" stroke="#000" stroke-width="1.1"/>
<text font-size="8.9" font-weight="bold" text-anchor="end" fill="#111" transform="translate(642.38,478.00) rotate(-45)">0.5</text>
<path d="M657.01 467.6V470.8" stroke="#000" stroke-width="1.1"/>
<text font-size="8.9" font-weight="bold" text-anchor="end" fill="#111" transform="translate(660.21,478.00) rotate(-45)">0.1</text>
<path d="M674.84 467.6V470.8" stroke="#000" stroke-width="1.1"/>
<text font-size="8.9" font-weight="bold" text-anchor="end" fill="#111" transform="translate(678.04,478.00) rotate(-45)">0</text>
<path d="M532.20 382.30V379.50H674.20V382.30" stroke="#000" stroke-width="1.1" fill="none"/>
<text x="602.70" y="377.80" font-size="7.8" font-weight="bold" text-anchor="middle" fill="#111" >**</text>
<path d="M550.03 395.70V392.90H674.20V395.70" stroke="#000" stroke-width="1.1" fill="none"/>
<text x="611.40" y="390.60" font-size="7.8" font-weight="bold" text-anchor="middle" fill="#111" >***</text>
<path d="M567.86 407.60V404.80H674.20V407.60" stroke="#000" stroke-width="1.1" fill="none"/>
<text x="617.70" y="402.70" font-size="7.8" font-weight="bold" text-anchor="middle" fill="#111" >**</text>
<path d="M585.69 419.80V417.00H674.20V419.80" stroke="#000" stroke-width="1.1" fill="none"/>
<text x="627.90" y="415.30" font-size="7.8" font-weight="bold" text-anchor="middle" fill="#111" >*</text>
<text x="598.60" y="347.50" font-size="8.6" font-weight="bold" text-anchor="middle" fill="#111" textLength="34.00" lengthAdjust="spacingAndGlyphs" >WCL103</text>
<text font-size="9.9" font-weight="bold" text-anchor="middle" fill="#111" textLength="54.5" lengthAdjust="spacingAndGlyphs" transform="translate(488.59999999999997,413.8) rotate(-90)">Fold change</text>
<text font-size="9.9" font-weight="bold" text-anchor="middle" fill="#111" textLength="88.58" lengthAdjust="spacingAndGlyphs" transform="translate(503.0,413) rotate(-90)">(mCherry/β-actin)</text>
<text x="602.70" y="503.20" font-size="10" font-weight="bold" text-anchor="middle" fill="#111" textLength="57.00" lengthAdjust="spacingAndGlyphs" >Dox (<tspan font-weight="normal">µ</tspan>g/ml)</text>
<rect x="525.60" y="600.63" width="11.8" height="56.87" fill="url(#p0)" stroke="#000" stroke-width="1.25"/>
<path d="M531.50 580.39V620.86M528.30 580.39H534.70M528.30 620.86H534.70" stroke="#000" stroke-width="1.25" fill="none"/>
<rect x="543.43" y="591.47" width="11.8" height="66.03" fill="url(#p1)" stroke="#000" stroke-width="1.25"/>
<path d="M549.33 580.82V602.55M546.13 580.82H552.53M546.13 602.55H552.53" stroke="#000" stroke-width="1.25" fill="none"/>
<rect x="561.26" y="591.47" width="11.8" height="66.03" fill="url(#p2)" stroke="#000" stroke-width="1.25"/>
<path d="M567.16 558.45V624.49M563.96 558.45H570.36M563.96 624.49H570.36" stroke="#000" stroke-width="1.25" fill="none"/>
<rect x="579.09" y="613.20" width="11.8" height="44.30" fill="url(#p3)" stroke="#000" stroke-width="1.25"/>
<path d="M584.99 604.89V621.72M581.79 604.89H588.19M581.79 621.72H588.19" stroke="#000" stroke-width="1.25" fill="none"/>
<rect x="596.92" y="628.53" width="11.8" height="28.97" fill="url(#p4)" stroke="#000" stroke-width="1.25"/>
<path d="M602.82 623.42V634.07M599.62 623.42H606.02M599.62 634.07H606.02" stroke="#000" stroke-width="1.25" fill="none"/>
<rect x="614.75" y="645.36" width="11.8" height="12.14" fill="url(#p5)" stroke="#000" stroke-width="1.25"/>
<path d="M620.65 641.52V649.62M617.45 641.52H623.85M617.45 649.62H623.85" stroke="#000" stroke-width="1.25" fill="none"/>
<rect x="632.58" y="651.96" width="11.8" height="5.54" fill="url(#p6)" stroke="#000" stroke-width="1.25"/>
<path d="M638.48 650.04V654.94M635.28 650.04H641.68M635.28 654.94H641.68" stroke="#000" stroke-width="1.25" fill="none"/>
<path d="M522.8 550.50V657.50" stroke="#000" stroke-width="1.2"/>
<path d="M522.1999999999999 657.5H683.2" stroke="#000" stroke-width="1.2"/>
<path d="M519.4 657.50H522.8" stroke="#000" stroke-width="1.1"/>
<text x="518.60" y="660.45" font-size="8.3" font-weight="bold" text-anchor="end" fill="#111" >0</text>
<path d="M519.4 636.20H522.8" stroke="#000" stroke-width="1.1"/>
<text x="518.60" y="639.15" font-size="8.3" font-weight="bold" text-anchor="end" fill="#111" >1</text>
<path d="M519.4 614.90H522.8" stroke="#000" stroke-width="1.1"/>
<text x="518.60" y="617.85" font-size="8.3" font-weight="bold" text-anchor="end" fill="#111" >2</text>
<path d="M519.4 593.60H522.8" stroke="#000" stroke-width="1.1"/>
<text x="518.60" y="596.55" font-size="8.3" font-weight="bold" text-anchor="end" fill="#111" >3</text>
<path d="M519.4 572.30H522.8" stroke="#000" stroke-width="1.1"/>
<text x="518.60" y="575.25" font-size="8.3" font-weight="bold" text-anchor="end" fill="#111" >4</text>
<path d="M519.4 551.00H522.8" stroke="#000" stroke-width="1.1"/>
<text x="518.60" y="553.95" font-size="8.3" font-weight="bold" text-anchor="end" fill="#111" >5</text>
<path d="M531.50 657.5V660.7" stroke="#000" stroke-width="1.1"/>
<text font-size="8.9" font-weight="bold" text-anchor="end" fill="#111" transform="translate(534.70,667.90) rotate(-45)">40</text>
<path d="M549.33 657.5V660.7" stroke="#000" stroke-width="1.1"/>
<text font-size="8.9" font-weight="bold" text-anchor="end" fill="#111" transform="translate(552.53,667.90) rotate(-45)">20</text>
<path d="M567.16 657.5V660.7" stroke="#000" stroke-width="1.1"/>
<text font-size="8.9" font-weight="bold" text-anchor="end" fill="#111" transform="translate(570.36,667.90) rotate(-45)">10</text>
<path d="M584.99 657.5V660.7" stroke="#000" stroke-width="1.1"/>
<text font-size="8.9" font-weight="bold" text-anchor="end" fill="#111" transform="translate(588.19,667.90) rotate(-45)">5</text>
<path d="M602.82 657.5V660.7" stroke="#000" stroke-width="1.1"/>
<text font-size="8.9" font-weight="bold" text-anchor="end" fill="#111" transform="translate(606.02,667.90) rotate(-45)">2.5</text>
<path d="M620.65 657.5V660.7" stroke="#000" stroke-width="1.1"/>
<text font-size="8.9" font-weight="bold" text-anchor="end" fill="#111" transform="translate(623.85,667.90) rotate(-45)">1</text>
<path d="M638.48 657.5V660.7" stroke="#000" stroke-width="1.1"/>
<text font-size="8.9" font-weight="bold" text-anchor="end" fill="#111" transform="translate(641.68,667.90) rotate(-45)">0.5</text>
<path d="M656.31 657.5V660.7" stroke="#000" stroke-width="1.1"/>
<text font-size="8.9" font-weight="bold" text-anchor="end" fill="#111" transform="translate(659.51,667.90) rotate(-45)">0.1</text>
<path d="M674.14 657.5V660.7" stroke="#000" stroke-width="1.1"/>
<text font-size="8.9" font-weight="bold" text-anchor="end" fill="#111" transform="translate(677.34,667.90) rotate(-45)">0</text>
<path d="M531.50 538.90V536.10H672.40V538.90" stroke="#000" stroke-width="1.1" fill="none"/>
<text x="599.20" y="535.00" font-size="7.8" font-weight="bold" text-anchor="middle" fill="#111" >**</text>
<path d="M549.33 548.00V545.20H672.40V548.00" stroke="#000" stroke-width="1.1" fill="none"/>
<text x="606.20" y="545.50" font-size="7.8" font-weight="bold" text-anchor="middle" fill="#111" >***</text>
<path d="M567.16 556.70V553.90H672.40V556.70" stroke="#000" stroke-width="1.1" fill="none"/>
<text x="617.40" y="553.90" font-size="7.8" font-weight="bold" text-anchor="middle" fill="#111" >***</text>
<path d="M584.99 597.40V594.60H673.80V597.40" stroke="#000" stroke-width="1.1" fill="none"/>
<text x="628.60" y="593.10" font-size="7.8" font-weight="bold" text-anchor="middle" fill="#111" >*</text>
<text x="598.30" y="520.50" font-size="8.6" font-weight="bold" text-anchor="middle" fill="#111" textLength="34.00" lengthAdjust="spacingAndGlyphs" >WCL105</text>
<text font-size="9.9" font-weight="bold" text-anchor="middle" fill="#111" textLength="54.5" lengthAdjust="spacingAndGlyphs" transform="translate(488.59999999999997,604.5999999999999) rotate(-90)">Fold change</text>
<text font-size="9.9" font-weight="bold" text-anchor="middle" fill="#111" textLength="88.06" lengthAdjust="spacingAndGlyphs" transform="translate(503.0,603.8) rotate(-90)">(mCherry/β-actin)</text>
<text x="602.70" y="693.10" font-size="10" font-weight="bold" text-anchor="middle" fill="#111" textLength="57.00" lengthAdjust="spacingAndGlyphs" >Dox (<tspan font-weight="normal">µ</tspan>g/ml)</text>
</svg>
</body></html>
